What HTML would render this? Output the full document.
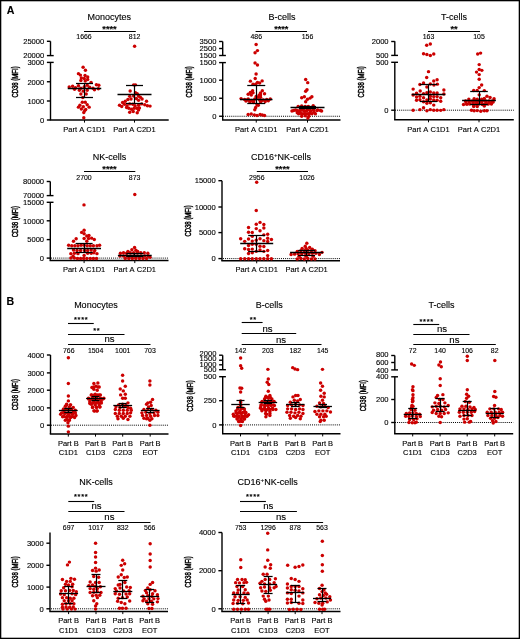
<!DOCTYPE html>
<html><head><meta charset="utf-8"><style>
html,body{margin:0;padding:0;background:#fff;-webkit-font-smoothing:antialiased;}
body{width:520px;height:639px;overflow:hidden;}
svg{display:block;will-change:transform;}
text{font-family:"Liberation Sans", sans-serif;fill:#000;stroke:#000;stroke-width:0.12px;}
</style></head><body>
<svg width="520" height="639" viewBox="0 0 520 639">
<rect x="0" y="0" width="520" height="639" fill="#fff"/>
<rect x="0.65" y="0.65" width="518.7" height="637.7" fill="none" stroke="#000" stroke-width="1.3"/>
<text x="6.8" y="14.3" font-size="10.6" font-weight="bold">A</text>
<text x="6.4" y="304.9" font-size="10.6" font-weight="bold">B</text>
<text x="109.20" y="19.80" font-size="9.0" text-anchor="middle" font-weight="normal" >Monocytes</text>
<line x1="84.00" y1="31.50" x2="135.80" y2="31.50" stroke="#000" stroke-width="1.1"/>
<text x="109.50" y="31.65" font-size="9.2" text-anchor="middle" font-weight="bold" >****</text>
<text transform="translate(84.00,39.30) scale(0.98,1.0)" font-size="7.1" text-anchor="middle" font-weight="normal" >1666</text>
<text transform="translate(134.60,39.30) scale(0.98,1.0)" font-size="7.1" text-anchor="middle" font-weight="normal" >812</text>
<line x1="50.50" y1="41.30" x2="50.50" y2="55.60" stroke="#000" stroke-width="1.4"/>
<line x1="50.50" y1="62.40" x2="50.50" y2="120.00" stroke="#000" stroke-width="1.4"/>
<line x1="46.90" y1="41.30" x2="50.50" y2="41.30" stroke="#000" stroke-width="1.4"/>
<text x="44.30" y="44.05" font-size="7.6" text-anchor="end" font-weight="normal" >25000</text>
<line x1="46.90" y1="55.60" x2="53.70" y2="55.60" stroke="#000" stroke-width="1.4"/>
<text x="44.30" y="58.35" font-size="7.6" text-anchor="end" font-weight="normal" >20000</text>
<line x1="46.90" y1="62.40" x2="53.70" y2="62.40" stroke="#000" stroke-width="1.4"/>
<text x="44.30" y="65.15" font-size="7.6" text-anchor="end" font-weight="normal" >3000</text>
<line x1="46.90" y1="81.75" x2="50.50" y2="81.75" stroke="#000" stroke-width="1.4"/>
<text x="44.30" y="84.50" font-size="7.6" text-anchor="end" font-weight="normal" >2000</text>
<line x1="46.90" y1="101.00" x2="50.50" y2="101.00" stroke="#000" stroke-width="1.4"/>
<text x="44.30" y="103.75" font-size="7.6" text-anchor="end" font-weight="normal" >1000</text>
<line x1="46.90" y1="120.00" x2="50.50" y2="120.00" stroke="#000" stroke-width="1.4"/>
<text x="44.30" y="122.75" font-size="7.6" text-anchor="end" font-weight="normal" >0</text>
<line x1="49.80" y1="120.00" x2="168.70" y2="120.00" stroke="#000" stroke-width="1.4"/>
<line x1="84.50" y1="120.00" x2="84.50" y2="122.60" stroke="#000" stroke-width="1.0"/>
<line x1="134.50" y1="120.00" x2="134.50" y2="122.60" stroke="#000" stroke-width="1.0"/>
<text transform="translate(17.70,82.00) rotate(-90) scale(1.0,1.5)" font-size="6.0" text-anchor="middle" font-weight="normal" style="stroke-width:0.3px">CD38 (MFI)</text>
<text x="84.50" y="131.60" font-size="7.5" text-anchor="middle" font-weight="normal" word-spacing="0.55">Part A C1D1</text>
<text x="134.50" y="131.60" font-size="7.5" text-anchor="middle" font-weight="normal" word-spacing="0.55">Part A C2D1</text>
<circle cx="83.11" cy="67.34" r="1.72" fill="#cc0000"/>
<circle cx="85.44" cy="70.25" r="1.72" fill="#cc0000"/>
<circle cx="78.45" cy="73.65" r="1.72" fill="#cc0000"/>
<circle cx="80.39" cy="75.11" r="1.72" fill="#cc0000"/>
<circle cx="85.05" cy="75.59" r="1.72" fill="#cc0000"/>
<circle cx="87.67" cy="77.05" r="1.72" fill="#cc0000"/>
<circle cx="81.36" cy="78.02" r="1.72" fill="#cc0000"/>
<circle cx="84.27" cy="78.50" r="1.72" fill="#cc0000"/>
<circle cx="87.67" cy="79.48" r="1.72" fill="#cc0000"/>
<circle cx="80.87" cy="80.45" r="1.72" fill="#cc0000"/>
<circle cx="85.24" cy="80.93" r="1.72" fill="#cc0000"/>
<circle cx="91.07" cy="82.39" r="1.72" fill="#cc0000"/>
<circle cx="69.22" cy="87.05" r="1.72" fill="#cc0000"/>
<circle cx="72.62" cy="86.27" r="1.72" fill="#cc0000"/>
<circle cx="75.53" cy="87.73" r="1.72" fill="#cc0000"/>
<circle cx="78.45" cy="85.79" r="1.72" fill="#cc0000"/>
<circle cx="80.87" cy="88.21" r="1.72" fill="#cc0000"/>
<circle cx="84.27" cy="86.76" r="1.72" fill="#cc0000"/>
<circle cx="87.18" cy="85.30" r="1.72" fill="#cc0000"/>
<circle cx="89.61" cy="87.24" r="1.72" fill="#cc0000"/>
<circle cx="93.01" cy="88.21" r="1.72" fill="#cc0000"/>
<circle cx="96.41" cy="84.82" r="1.72" fill="#cc0000"/>
<circle cx="98.83" cy="85.30" r="1.72" fill="#cc0000"/>
<circle cx="98.35" cy="88.70" r="1.72" fill="#cc0000"/>
<circle cx="94.47" cy="89.67" r="1.72" fill="#cc0000"/>
<circle cx="74.56" cy="89.18" r="1.72" fill="#cc0000"/>
<circle cx="79.42" cy="90.16" r="1.72" fill="#cc0000"/>
<circle cx="83.30" cy="91.13" r="1.72" fill="#cc0000"/>
<circle cx="87.18" cy="90.16" r="1.72" fill="#cc0000"/>
<circle cx="80.87" cy="94.04" r="1.72" fill="#cc0000"/>
<circle cx="86.21" cy="94.04" r="1.72" fill="#cc0000"/>
<circle cx="82.82" cy="97.44" r="1.72" fill="#cc0000"/>
<circle cx="82.33" cy="102.29" r="1.72" fill="#cc0000"/>
<circle cx="85.24" cy="102.29" r="1.72" fill="#cc0000"/>
<circle cx="87.18" cy="104.72" r="1.72" fill="#cc0000"/>
<circle cx="79.90" cy="105.20" r="1.72" fill="#cc0000"/>
<circle cx="78.45" cy="107.15" r="1.72" fill="#cc0000"/>
<circle cx="83.30" cy="106.66" r="1.72" fill="#cc0000"/>
<circle cx="89.13" cy="107.15" r="1.72" fill="#cc0000"/>
<circle cx="81.36" cy="109.09" r="1.72" fill="#cc0000"/>
<circle cx="85.73" cy="109.57" r="1.72" fill="#cc0000"/>
<circle cx="83.79" cy="112.49" r="1.72" fill="#cc0000"/>
<circle cx="84.76" cy="110.54" r="1.72" fill="#cc0000"/>
<circle cx="83.79" cy="117.83" r="1.72" fill="#cc0000"/>
<circle cx="134.60" cy="46.20" r="1.72" fill="#cc0000"/>
<circle cx="133.68" cy="84.87" r="1.72" fill="#cc0000"/>
<circle cx="135.45" cy="84.87" r="1.72" fill="#cc0000"/>
<circle cx="130.14" cy="91.06" r="1.72" fill="#cc0000"/>
<circle cx="135.45" cy="92.83" r="1.72" fill="#cc0000"/>
<circle cx="137.22" cy="93.72" r="1.72" fill="#cc0000"/>
<circle cx="129.70" cy="96.37" r="1.72" fill="#cc0000"/>
<circle cx="133.68" cy="95.93" r="1.72" fill="#cc0000"/>
<circle cx="138.55" cy="95.93" r="1.72" fill="#cc0000"/>
<circle cx="140.32" cy="97.26" r="1.72" fill="#cc0000"/>
<circle cx="127.93" cy="99.47" r="1.72" fill="#cc0000"/>
<circle cx="131.03" cy="99.03" r="1.72" fill="#cc0000"/>
<circle cx="136.34" cy="98.58" r="1.72" fill="#cc0000"/>
<circle cx="138.55" cy="100.35" r="1.72" fill="#cc0000"/>
<circle cx="142.09" cy="99.03" r="1.72" fill="#cc0000"/>
<circle cx="146.51" cy="101.24" r="1.72" fill="#cc0000"/>
<circle cx="125.27" cy="101.24" r="1.72" fill="#cc0000"/>
<circle cx="122.62" cy="102.57" r="1.72" fill="#cc0000"/>
<circle cx="119.52" cy="105.22" r="1.72" fill="#cc0000"/>
<circle cx="121.73" cy="106.55" r="1.72" fill="#cc0000"/>
<circle cx="124.39" cy="104.34" r="1.72" fill="#cc0000"/>
<circle cx="127.04" cy="105.66" r="1.72" fill="#cc0000"/>
<circle cx="129.70" cy="103.89" r="1.72" fill="#cc0000"/>
<circle cx="132.80" cy="104.34" r="1.72" fill="#cc0000"/>
<circle cx="135.01" cy="105.66" r="1.72" fill="#cc0000"/>
<circle cx="138.55" cy="105.22" r="1.72" fill="#cc0000"/>
<circle cx="141.65" cy="103.89" r="1.72" fill="#cc0000"/>
<circle cx="144.74" cy="104.78" r="1.72" fill="#cc0000"/>
<circle cx="147.40" cy="105.66" r="1.72" fill="#cc0000"/>
<circle cx="150.05" cy="106.11" r="1.72" fill="#cc0000"/>
<circle cx="128.81" cy="108.32" r="1.72" fill="#cc0000"/>
<circle cx="131.47" cy="109.20" r="1.72" fill="#cc0000"/>
<circle cx="134.12" cy="108.32" r="1.72" fill="#cc0000"/>
<circle cx="136.78" cy="108.32" r="1.72" fill="#cc0000"/>
<circle cx="139.43" cy="107.88" r="1.72" fill="#cc0000"/>
<circle cx="129.70" cy="112.30" r="1.72" fill="#cc0000"/>
<circle cx="133.24" cy="111.42" r="1.72" fill="#cc0000"/>
<circle cx="137.22" cy="112.74" r="1.72" fill="#cc0000"/>
<circle cx="138.55" cy="110.09" r="1.72" fill="#cc0000"/>
<circle cx="126.60" cy="107.43" r="1.72" fill="#cc0000"/>
<line x1="67.75" y1="88.50" x2="101.25" y2="88.50" stroke="#000" stroke-width="1.3"/>
<line x1="84.50" y1="83.00" x2="84.50" y2="97.50" stroke="#000" stroke-width="1.2"/>
<line x1="76.00" y1="83.50" x2="93.00" y2="83.50" stroke="#000" stroke-width="1.25"/>
<line x1="76.00" y1="97.50" x2="93.00" y2="97.50" stroke="#000" stroke-width="1.25"/>
<line x1="117.50" y1="94.50" x2="151.50" y2="94.50" stroke="#000" stroke-width="1.3"/>
<line x1="134.50" y1="85.90" x2="134.50" y2="103.20" stroke="#000" stroke-width="1.2"/>
<line x1="126.00" y1="85.50" x2="143.00" y2="85.50" stroke="#000" stroke-width="1.25"/>
<line x1="126.00" y1="103.50" x2="143.00" y2="103.50" stroke="#000" stroke-width="1.25"/>
<text x="282.00" y="19.80" font-size="9.0" text-anchor="middle" font-weight="normal" >B-cells</text>
<line x1="255.60" y1="31.50" x2="307.00" y2="31.50" stroke="#000" stroke-width="1.1"/>
<text x="281.30" y="31.65" font-size="9.2" text-anchor="middle" font-weight="bold" >****</text>
<text transform="translate(256.25,39.30) scale(0.98,1.0)" font-size="7.1" text-anchor="middle" font-weight="normal" >486</text>
<text transform="translate(307.50,39.30) scale(0.98,1.0)" font-size="7.1" text-anchor="middle" font-weight="normal" >156</text>
<line x1="222.70" y1="41.50" x2="222.70" y2="55.50" stroke="#000" stroke-width="1.4"/>
<line x1="222.70" y1="62.60" x2="222.70" y2="120.00" stroke="#000" stroke-width="1.4"/>
<line x1="219.10" y1="41.50" x2="222.70" y2="41.50" stroke="#000" stroke-width="1.4"/>
<text x="216.50" y="44.25" font-size="7.6" text-anchor="end" font-weight="normal" >3500</text>
<line x1="219.10" y1="48.50" x2="222.70" y2="48.50" stroke="#000" stroke-width="1.4"/>
<text x="216.50" y="51.25" font-size="7.6" text-anchor="end" font-weight="normal" >2500</text>
<line x1="219.10" y1="55.50" x2="225.90" y2="55.50" stroke="#000" stroke-width="1.4"/>
<text x="216.50" y="58.25" font-size="7.6" text-anchor="end" font-weight="normal" >1500</text>
<line x1="219.10" y1="62.60" x2="225.90" y2="62.60" stroke="#000" stroke-width="1.4"/>
<text x="216.50" y="65.15" font-size="7.6" text-anchor="end" font-weight="normal" >1500</text>
<line x1="219.10" y1="80.20" x2="222.70" y2="80.20" stroke="#000" stroke-width="1.4"/>
<text x="216.50" y="82.95" font-size="7.6" text-anchor="end" font-weight="normal" >1000</text>
<line x1="219.10" y1="98.25" x2="222.70" y2="98.25" stroke="#000" stroke-width="1.4"/>
<text x="216.50" y="101.00" font-size="7.6" text-anchor="end" font-weight="normal" >500</text>
<line x1="219.10" y1="116.25" x2="222.70" y2="116.25" stroke="#000" stroke-width="1.4"/>
<text x="216.50" y="119.00" font-size="7.6" text-anchor="end" font-weight="normal" >0</text>
<line x1="222.00" y1="120.00" x2="340.50" y2="120.00" stroke="#000" stroke-width="1.4"/>
<line x1="256.25" y1="120.00" x2="256.25" y2="122.60" stroke="#000" stroke-width="1.0"/>
<line x1="307.50" y1="120.00" x2="307.50" y2="122.60" stroke="#000" stroke-width="1.0"/>
<line x1="223.00" y1="116.25" x2="340.50" y2="116.25" stroke="#000" stroke-width="1.0" stroke-dasharray="1,1.07"/>
<text transform="translate(192.20,81.80) rotate(-90) scale(1.0,1.5)" font-size="6.0" text-anchor="middle" font-weight="normal" style="stroke-width:0.3px">CD38 (MFI)</text>
<text x="256.25" y="131.60" font-size="7.5" text-anchor="middle" font-weight="normal" word-spacing="0.55">Part A C1D1</text>
<text x="307.50" y="131.60" font-size="7.5" text-anchor="middle" font-weight="normal" word-spacing="0.55">Part A C2D1</text>
<circle cx="256.12" cy="44.42" r="1.72" fill="#cc0000"/>
<circle cx="257.45" cy="50.62" r="1.72" fill="#cc0000"/>
<circle cx="255.06" cy="52.83" r="1.72" fill="#cc0000"/>
<circle cx="255.06" cy="63.01" r="1.72" fill="#cc0000"/>
<circle cx="257.45" cy="64.96" r="1.72" fill="#cc0000"/>
<circle cx="256.12" cy="74.07" r="1.72" fill="#cc0000"/>
<circle cx="255.24" cy="78.50" r="1.72" fill="#cc0000"/>
<circle cx="250.37" cy="81.15" r="1.72" fill="#cc0000"/>
<circle cx="257.45" cy="82.48" r="1.72" fill="#cc0000"/>
<circle cx="259.66" cy="82.92" r="1.72" fill="#cc0000"/>
<circle cx="262.14" cy="80.88" r="1.72" fill="#cc0000"/>
<circle cx="253.03" cy="84.25" r="1.72" fill="#cc0000"/>
<circle cx="255.68" cy="84.25" r="1.72" fill="#cc0000"/>
<circle cx="252.58" cy="90.64" r="1.72" fill="#cc0000"/>
<circle cx="250.37" cy="92.41" r="1.72" fill="#cc0000"/>
<circle cx="248.16" cy="94.18" r="1.72" fill="#cc0000"/>
<circle cx="253.03" cy="92.85" r="1.72" fill="#cc0000"/>
<circle cx="262.32" cy="90.64" r="1.72" fill="#cc0000"/>
<circle cx="260.55" cy="92.85" r="1.72" fill="#cc0000"/>
<circle cx="264.53" cy="93.73" r="1.72" fill="#cc0000"/>
<circle cx="259.22" cy="95.06" r="1.72" fill="#cc0000"/>
<circle cx="251.26" cy="95.06" r="1.72" fill="#cc0000"/>
<circle cx="256.12" cy="96.39" r="1.72" fill="#cc0000"/>
<circle cx="257.89" cy="97.27" r="1.72" fill="#cc0000"/>
<circle cx="260.55" cy="97.27" r="1.72" fill="#cc0000"/>
<circle cx="241.08" cy="98.60" r="1.72" fill="#cc0000"/>
<circle cx="244.62" cy="99.49" r="1.72" fill="#cc0000"/>
<circle cx="248.16" cy="99.04" r="1.72" fill="#cc0000"/>
<circle cx="251.70" cy="100.37" r="1.72" fill="#cc0000"/>
<circle cx="254.80" cy="99.04" r="1.72" fill="#cc0000"/>
<circle cx="259.66" cy="99.93" r="1.72" fill="#cc0000"/>
<circle cx="263.20" cy="99.93" r="1.72" fill="#cc0000"/>
<circle cx="266.74" cy="99.49" r="1.72" fill="#cc0000"/>
<circle cx="270.28" cy="99.04" r="1.72" fill="#cc0000"/>
<circle cx="249.93" cy="101.70" r="1.72" fill="#cc0000"/>
<circle cx="253.47" cy="102.58" r="1.72" fill="#cc0000"/>
<circle cx="260.55" cy="101.70" r="1.72" fill="#cc0000"/>
<circle cx="257.01" cy="104.80" r="1.72" fill="#cc0000"/>
<circle cx="255.68" cy="107.45" r="1.72" fill="#cc0000"/>
<circle cx="254.80" cy="109.66" r="1.72" fill="#cc0000"/>
<circle cx="248.16" cy="114.53" r="1.72" fill="#cc0000"/>
<circle cx="251.26" cy="114.09" r="1.72" fill="#cc0000"/>
<circle cx="254.35" cy="114.97" r="1.72" fill="#cc0000"/>
<circle cx="257.01" cy="115.42" r="1.72" fill="#cc0000"/>
<circle cx="260.11" cy="114.53" r="1.72" fill="#cc0000"/>
<circle cx="262.32" cy="114.97" r="1.72" fill="#cc0000"/>
<circle cx="264.53" cy="115.42" r="1.72" fill="#cc0000"/>
<circle cx="247.27" cy="99.93" r="1.72" fill="#cc0000"/>
<circle cx="260.55" cy="95.06" r="1.72" fill="#cc0000"/>
<circle cx="246.00" cy="101.08" r="1.72" fill="#cc0000"/>
<circle cx="249.85" cy="101.46" r="1.72" fill="#cc0000"/>
<circle cx="253.69" cy="101.08" r="1.72" fill="#cc0000"/>
<circle cx="261.38" cy="101.08" r="1.72" fill="#cc0000"/>
<circle cx="265.23" cy="101.46" r="1.72" fill="#cc0000"/>
<circle cx="268.31" cy="100.69" r="1.72" fill="#cc0000"/>
<circle cx="258.31" cy="105.31" r="1.72" fill="#cc0000"/>
<circle cx="305.68" cy="79.54" r="1.72" fill="#cc0000"/>
<circle cx="307.72" cy="82.64" r="1.72" fill="#cc0000"/>
<circle cx="307.01" cy="89.72" r="1.72" fill="#cc0000"/>
<circle cx="305.68" cy="91.22" r="1.72" fill="#cc0000"/>
<circle cx="301.70" cy="97.68" r="1.72" fill="#cc0000"/>
<circle cx="304.35" cy="96.80" r="1.72" fill="#cc0000"/>
<circle cx="307.45" cy="99.19" r="1.72" fill="#cc0000"/>
<circle cx="310.11" cy="98.12" r="1.72" fill="#cc0000"/>
<circle cx="311.88" cy="96.80" r="1.72" fill="#cc0000"/>
<circle cx="305.68" cy="101.66" r="1.72" fill="#cc0000"/>
<circle cx="298.16" cy="106.53" r="1.72" fill="#cc0000"/>
<circle cx="301.70" cy="106.09" r="1.72" fill="#cc0000"/>
<circle cx="305.24" cy="106.53" r="1.72" fill="#cc0000"/>
<circle cx="308.34" cy="106.53" r="1.72" fill="#cc0000"/>
<circle cx="313.20" cy="105.65" r="1.72" fill="#cc0000"/>
<circle cx="291.96" cy="110.96" r="1.72" fill="#cc0000"/>
<circle cx="295.50" cy="110.07" r="1.72" fill="#cc0000"/>
<circle cx="298.60" cy="110.96" r="1.72" fill="#cc0000"/>
<circle cx="301.70" cy="110.07" r="1.72" fill="#cc0000"/>
<circle cx="304.80" cy="110.96" r="1.72" fill="#cc0000"/>
<circle cx="307.45" cy="110.07" r="1.72" fill="#cc0000"/>
<circle cx="310.55" cy="110.96" r="1.72" fill="#cc0000"/>
<circle cx="313.65" cy="109.63" r="1.72" fill="#cc0000"/>
<circle cx="317.63" cy="110.07" r="1.72" fill="#cc0000"/>
<circle cx="321.61" cy="110.96" r="1.72" fill="#cc0000"/>
<circle cx="297.27" cy="112.73" r="1.72" fill="#cc0000"/>
<circle cx="300.37" cy="113.17" r="1.72" fill="#cc0000"/>
<circle cx="303.91" cy="113.61" r="1.72" fill="#cc0000"/>
<circle cx="307.01" cy="113.61" r="1.72" fill="#cc0000"/>
<circle cx="310.11" cy="113.17" r="1.72" fill="#cc0000"/>
<circle cx="314.09" cy="112.28" r="1.72" fill="#cc0000"/>
<circle cx="301.70" cy="116.27" r="1.72" fill="#cc0000"/>
<circle cx="305.24" cy="115.82" r="1.72" fill="#cc0000"/>
<circle cx="308.78" cy="116.27" r="1.72" fill="#cc0000"/>
<circle cx="307.89" cy="118.04" r="1.72" fill="#cc0000"/>
<circle cx="293.60" cy="110.50" r="1.72" fill="#cc0000"/>
<circle cx="296.95" cy="110.50" r="1.72" fill="#cc0000"/>
<circle cx="300.30" cy="110.50" r="1.72" fill="#cc0000"/>
<circle cx="303.65" cy="110.50" r="1.72" fill="#cc0000"/>
<circle cx="307.00" cy="110.50" r="1.72" fill="#cc0000"/>
<circle cx="310.35" cy="110.50" r="1.72" fill="#cc0000"/>
<circle cx="313.70" cy="110.50" r="1.72" fill="#cc0000"/>
<circle cx="317.05" cy="110.50" r="1.72" fill="#cc0000"/>
<circle cx="320.40" cy="110.50" r="1.72" fill="#cc0000"/>
<circle cx="298.60" cy="113.80" r="1.72" fill="#cc0000"/>
<circle cx="301.96" cy="113.80" r="1.72" fill="#cc0000"/>
<circle cx="305.32" cy="113.80" r="1.72" fill="#cc0000"/>
<circle cx="308.68" cy="113.80" r="1.72" fill="#cc0000"/>
<circle cx="312.04" cy="113.80" r="1.72" fill="#cc0000"/>
<circle cx="315.40" cy="113.80" r="1.72" fill="#cc0000"/>
<line x1="240.00" y1="99.50" x2="272.50" y2="99.50" stroke="#000" stroke-width="1.3"/>
<line x1="256.50" y1="85.50" x2="256.50" y2="103.00" stroke="#000" stroke-width="1.2"/>
<line x1="247.25" y1="85.50" x2="265.25" y2="85.50" stroke="#000" stroke-width="1.25"/>
<line x1="247.25" y1="103.50" x2="265.25" y2="103.50" stroke="#000" stroke-width="1.25"/>
<line x1="290.50" y1="107.50" x2="324.50" y2="107.50" stroke="#000" stroke-width="1.3"/>
<line x1="307.50" y1="106.20" x2="307.50" y2="108.20" stroke="#000" stroke-width="1.2"/>
<line x1="299.00" y1="106.50" x2="316.00" y2="106.50" stroke="#000" stroke-width="1.25"/>
<line x1="299.00" y1="108.50" x2="316.00" y2="108.50" stroke="#000" stroke-width="1.25"/>
<text x="454.00" y="19.80" font-size="9.0" text-anchor="middle" font-weight="normal" >T-cells</text>
<line x1="428.00" y1="31.50" x2="480.00" y2="31.50" stroke="#000" stroke-width="1.1"/>
<text x="454.00" y="31.65" font-size="9.2" text-anchor="middle" font-weight="bold" >**</text>
<text transform="translate(428.50,39.30) scale(0.98,1.0)" font-size="7.1" text-anchor="middle" font-weight="normal" >163</text>
<text transform="translate(479.00,39.30) scale(0.98,1.0)" font-size="7.1" text-anchor="middle" font-weight="normal" >105</text>
<line x1="394.80" y1="41.30" x2="394.80" y2="55.60" stroke="#000" stroke-width="1.4"/>
<line x1="394.80" y1="62.30" x2="394.80" y2="119.70" stroke="#000" stroke-width="1.4"/>
<line x1="391.20" y1="41.50" x2="394.80" y2="41.50" stroke="#000" stroke-width="1.4"/>
<text x="388.60" y="44.25" font-size="7.6" text-anchor="end" font-weight="normal" >2000</text>
<line x1="391.20" y1="55.40" x2="398.00" y2="55.40" stroke="#000" stroke-width="1.4"/>
<text x="388.60" y="58.15" font-size="7.6" text-anchor="end" font-weight="normal" >500</text>
<line x1="391.20" y1="62.30" x2="398.00" y2="62.30" stroke="#000" stroke-width="1.4"/>
<text x="388.60" y="64.65" font-size="7.6" text-anchor="end" font-weight="normal" >500</text>
<line x1="391.20" y1="110.20" x2="394.80" y2="110.20" stroke="#000" stroke-width="1.4"/>
<text x="388.60" y="112.95" font-size="7.6" text-anchor="end" font-weight="normal" >0</text>
<line x1="394.10" y1="119.70" x2="513.80" y2="119.70" stroke="#000" stroke-width="1.4"/>
<line x1="428.50" y1="119.70" x2="428.50" y2="122.30" stroke="#000" stroke-width="1.0"/>
<line x1="479.00" y1="119.70" x2="479.00" y2="122.30" stroke="#000" stroke-width="1.0"/>
<line x1="395.00" y1="110.20" x2="513.80" y2="110.20" stroke="#000" stroke-width="1.0" stroke-dasharray="1,1.07"/>
<text transform="translate(364.30,81.80) rotate(-90) scale(1.0,1.5)" font-size="6.0" text-anchor="middle" font-weight="normal" style="stroke-width:0.3px">CD38 (MFI)</text>
<text x="428.50" y="131.60" font-size="7.5" text-anchor="middle" font-weight="normal" word-spacing="0.55">Part A C1D1</text>
<text x="479.00" y="131.60" font-size="7.5" text-anchor="middle" font-weight="normal" word-spacing="0.55">Part A C2D1</text>
<circle cx="426.70" cy="45.24" r="1.72" fill="#cc0000"/>
<circle cx="430.32" cy="44.07" r="1.72" fill="#cc0000"/>
<circle cx="423.54" cy="53.74" r="1.72" fill="#cc0000"/>
<circle cx="426.88" cy="54.47" r="1.72" fill="#cc0000"/>
<circle cx="430.32" cy="55.55" r="1.72" fill="#cc0000"/>
<circle cx="433.75" cy="54.01" r="1.72" fill="#cc0000"/>
<circle cx="428.51" cy="71.65" r="1.72" fill="#cc0000"/>
<circle cx="426.70" cy="77.52" r="1.72" fill="#cc0000"/>
<circle cx="433.75" cy="80.97" r="1.72" fill="#cc0000"/>
<circle cx="437.10" cy="79.80" r="1.72" fill="#cc0000"/>
<circle cx="423.54" cy="83.05" r="1.72" fill="#cc0000"/>
<circle cx="419.92" cy="84.59" r="1.72" fill="#cc0000"/>
<circle cx="430.32" cy="83.96" r="1.72" fill="#cc0000"/>
<circle cx="433.93" cy="85.04" r="1.72" fill="#cc0000"/>
<circle cx="437.37" cy="84.14" r="1.72" fill="#cc0000"/>
<circle cx="426.88" cy="87.03" r="1.72" fill="#cc0000"/>
<circle cx="413.14" cy="89.11" r="1.72" fill="#cc0000"/>
<circle cx="420.19" cy="90.92" r="1.72" fill="#cc0000"/>
<circle cx="443.88" cy="90.01" r="1.72" fill="#cc0000"/>
<circle cx="416.57" cy="93.18" r="1.72" fill="#cc0000"/>
<circle cx="423.54" cy="93.63" r="1.72" fill="#cc0000"/>
<circle cx="426.88" cy="92.73" r="1.72" fill="#cc0000"/>
<circle cx="430.32" cy="92.09" r="1.72" fill="#cc0000"/>
<circle cx="433.75" cy="93.00" r="1.72" fill="#cc0000"/>
<circle cx="437.10" cy="93.00" r="1.72" fill="#cc0000"/>
<circle cx="413.14" cy="94.99" r="1.72" fill="#cc0000"/>
<circle cx="416.57" cy="96.98" r="1.72" fill="#cc0000"/>
<circle cx="419.92" cy="96.34" r="1.72" fill="#cc0000"/>
<circle cx="423.54" cy="97.70" r="1.72" fill="#cc0000"/>
<circle cx="430.32" cy="96.34" r="1.72" fill="#cc0000"/>
<circle cx="433.75" cy="96.61" r="1.72" fill="#cc0000"/>
<circle cx="437.10" cy="96.61" r="1.72" fill="#cc0000"/>
<circle cx="440.71" cy="97.70" r="1.72" fill="#cc0000"/>
<circle cx="443.88" cy="94.08" r="1.72" fill="#cc0000"/>
<circle cx="416.57" cy="100.23" r="1.72" fill="#cc0000"/>
<circle cx="419.92" cy="99.69" r="1.72" fill="#cc0000"/>
<circle cx="426.88" cy="99.96" r="1.72" fill="#cc0000"/>
<circle cx="430.32" cy="99.06" r="1.72" fill="#cc0000"/>
<circle cx="433.75" cy="99.96" r="1.72" fill="#cc0000"/>
<circle cx="437.10" cy="100.23" r="1.72" fill="#cc0000"/>
<circle cx="440.71" cy="101.32" r="1.72" fill="#cc0000"/>
<circle cx="423.54" cy="101.77" r="1.72" fill="#cc0000"/>
<circle cx="426.88" cy="103.31" r="1.72" fill="#cc0000"/>
<circle cx="430.32" cy="102.67" r="1.72" fill="#cc0000"/>
<circle cx="433.75" cy="105.11" r="1.72" fill="#cc0000"/>
<circle cx="413.14" cy="110.18" r="1.72" fill="#cc0000"/>
<circle cx="419.92" cy="109.63" r="1.72" fill="#cc0000"/>
<circle cx="423.54" cy="107.83" r="1.72" fill="#cc0000"/>
<circle cx="426.88" cy="110.81" r="1.72" fill="#cc0000"/>
<circle cx="430.32" cy="109.63" r="1.72" fill="#cc0000"/>
<circle cx="433.75" cy="110.18" r="1.72" fill="#cc0000"/>
<circle cx="437.10" cy="110.18" r="1.72" fill="#cc0000"/>
<circle cx="440.71" cy="110.36" r="1.72" fill="#cc0000"/>
<circle cx="443.88" cy="109.63" r="1.72" fill="#cc0000"/>
<circle cx="477.68" cy="53.98" r="1.72" fill="#cc0000"/>
<circle cx="480.60" cy="53.10" r="1.72" fill="#cc0000"/>
<circle cx="479.19" cy="64.60" r="1.72" fill="#cc0000"/>
<circle cx="479.19" cy="69.47" r="1.72" fill="#cc0000"/>
<circle cx="481.84" cy="70.35" r="1.72" fill="#cc0000"/>
<circle cx="476.53" cy="72.12" r="1.72" fill="#cc0000"/>
<circle cx="479.19" cy="74.60" r="1.72" fill="#cc0000"/>
<circle cx="479.19" cy="79.20" r="1.72" fill="#cc0000"/>
<circle cx="481.66" cy="84.96" r="1.72" fill="#cc0000"/>
<circle cx="479.19" cy="87.61" r="1.72" fill="#cc0000"/>
<circle cx="473.70" cy="90.42" r="1.72" fill="#cc0000"/>
<circle cx="477.24" cy="90.42" r="1.72" fill="#cc0000"/>
<circle cx="484.32" cy="90.60" r="1.72" fill="#cc0000"/>
<circle cx="479.19" cy="94.85" r="1.72" fill="#cc0000"/>
<circle cx="486.97" cy="96.18" r="1.72" fill="#cc0000"/>
<circle cx="468.83" cy="99.10" r="1.72" fill="#cc0000"/>
<circle cx="474.14" cy="98.83" r="1.72" fill="#cc0000"/>
<circle cx="477.24" cy="99.27" r="1.72" fill="#cc0000"/>
<circle cx="481.66" cy="99.27" r="1.72" fill="#cc0000"/>
<circle cx="484.32" cy="98.39" r="1.72" fill="#cc0000"/>
<circle cx="490.07" cy="97.50" r="1.72" fill="#cc0000"/>
<circle cx="494.05" cy="98.83" r="1.72" fill="#cc0000"/>
<circle cx="465.73" cy="101.49" r="1.72" fill="#cc0000"/>
<circle cx="469.27" cy="101.93" r="1.72" fill="#cc0000"/>
<circle cx="473.26" cy="102.37" r="1.72" fill="#cc0000"/>
<circle cx="476.80" cy="101.93" r="1.72" fill="#cc0000"/>
<circle cx="481.66" cy="101.93" r="1.72" fill="#cc0000"/>
<circle cx="485.65" cy="101.49" r="1.72" fill="#cc0000"/>
<circle cx="489.19" cy="101.93" r="1.72" fill="#cc0000"/>
<circle cx="493.17" cy="101.93" r="1.72" fill="#cc0000"/>
<circle cx="463.52" cy="104.58" r="1.72" fill="#cc0000"/>
<circle cx="467.06" cy="104.14" r="1.72" fill="#cc0000"/>
<circle cx="473.70" cy="105.03" r="1.72" fill="#cc0000"/>
<circle cx="477.24" cy="104.14" r="1.72" fill="#cc0000"/>
<circle cx="482.55" cy="104.58" r="1.72" fill="#cc0000"/>
<circle cx="486.97" cy="103.70" r="1.72" fill="#cc0000"/>
<circle cx="491.40" cy="103.26" r="1.72" fill="#cc0000"/>
<circle cx="473.70" cy="106.53" r="1.72" fill="#cc0000"/>
<circle cx="477.24" cy="106.53" r="1.72" fill="#cc0000"/>
<circle cx="484.32" cy="105.91" r="1.72" fill="#cc0000"/>
<circle cx="471.49" cy="110.34" r="1.72" fill="#cc0000"/>
<circle cx="474.14" cy="110.78" r="1.72" fill="#cc0000"/>
<circle cx="477.24" cy="110.60" r="1.72" fill="#cc0000"/>
<circle cx="480.78" cy="111.22" r="1.72" fill="#cc0000"/>
<circle cx="484.32" cy="110.78" r="1.72" fill="#cc0000"/>
<circle cx="486.97" cy="110.78" r="1.72" fill="#cc0000"/>
<circle cx="465.60" cy="101.00" r="1.72" fill="#cc0000"/>
<circle cx="468.95" cy="101.00" r="1.72" fill="#cc0000"/>
<circle cx="472.30" cy="101.00" r="1.72" fill="#cc0000"/>
<circle cx="475.65" cy="101.00" r="1.72" fill="#cc0000"/>
<circle cx="479.00" cy="101.00" r="1.72" fill="#cc0000"/>
<circle cx="482.35" cy="101.00" r="1.72" fill="#cc0000"/>
<circle cx="485.70" cy="101.00" r="1.72" fill="#cc0000"/>
<circle cx="489.05" cy="101.00" r="1.72" fill="#cc0000"/>
<circle cx="492.40" cy="101.00" r="1.72" fill="#cc0000"/>
<circle cx="466.60" cy="104.00" r="1.72" fill="#cc0000"/>
<circle cx="469.70" cy="104.00" r="1.72" fill="#cc0000"/>
<circle cx="472.80" cy="104.00" r="1.72" fill="#cc0000"/>
<circle cx="475.90" cy="104.00" r="1.72" fill="#cc0000"/>
<circle cx="479.00" cy="104.00" r="1.72" fill="#cc0000"/>
<circle cx="482.10" cy="104.00" r="1.72" fill="#cc0000"/>
<circle cx="485.20" cy="104.00" r="1.72" fill="#cc0000"/>
<circle cx="488.30" cy="104.00" r="1.72" fill="#cc0000"/>
<circle cx="491.40" cy="104.00" r="1.72" fill="#cc0000"/>
<line x1="411.70" y1="94.50" x2="445.30" y2="94.50" stroke="#000" stroke-width="1.3"/>
<line x1="428.50" y1="84.70" x2="428.50" y2="101.40" stroke="#000" stroke-width="1.2"/>
<line x1="419.75" y1="84.50" x2="437.25" y2="84.50" stroke="#000" stroke-width="1.25"/>
<line x1="419.75" y1="101.50" x2="437.25" y2="101.50" stroke="#000" stroke-width="1.25"/>
<line x1="462.10" y1="100.50" x2="495.90" y2="100.50" stroke="#000" stroke-width="1.3"/>
<line x1="479.50" y1="91.40" x2="479.50" y2="104.00" stroke="#000" stroke-width="1.2"/>
<line x1="470.20" y1="91.50" x2="487.80" y2="91.50" stroke="#000" stroke-width="1.25"/>
<line x1="470.20" y1="104.50" x2="487.80" y2="104.50" stroke="#000" stroke-width="1.25"/>
<text x="109.40" y="160.20" font-size="9.0" text-anchor="middle" font-weight="normal" >NK-cells</text>
<line x1="84.00" y1="171.50" x2="135.30" y2="171.50" stroke="#000" stroke-width="1.1"/>
<text x="109.50" y="171.55" font-size="9.2" text-anchor="middle" font-weight="bold" >****</text>
<text transform="translate(84.00,179.60) scale(0.98,1.0)" font-size="7.1" text-anchor="middle" font-weight="normal" >2700</text>
<text transform="translate(134.60,179.60) scale(0.98,1.0)" font-size="7.1" text-anchor="middle" font-weight="normal" >873</text>
<line x1="50.30" y1="181.50" x2="50.30" y2="195.60" stroke="#000" stroke-width="1.4"/>
<line x1="50.30" y1="202.30" x2="50.30" y2="260.50" stroke="#000" stroke-width="1.4"/>
<line x1="46.70" y1="181.50" x2="50.30" y2="181.50" stroke="#000" stroke-width="1.4"/>
<text x="44.10" y="184.25" font-size="7.6" text-anchor="end" font-weight="normal" >80000</text>
<line x1="46.70" y1="195.60" x2="53.50" y2="195.60" stroke="#000" stroke-width="1.4"/>
<text x="44.10" y="198.35" font-size="7.6" text-anchor="end" font-weight="normal" >70000</text>
<line x1="46.70" y1="202.30" x2="53.50" y2="202.30" stroke="#000" stroke-width="1.4"/>
<text x="44.10" y="204.65" font-size="7.6" text-anchor="end" font-weight="normal" >15000</text>
<line x1="46.70" y1="220.80" x2="50.30" y2="220.80" stroke="#000" stroke-width="1.4"/>
<text x="44.10" y="223.55" font-size="7.6" text-anchor="end" font-weight="normal" >10000</text>
<line x1="46.70" y1="239.60" x2="50.30" y2="239.60" stroke="#000" stroke-width="1.4"/>
<text x="44.10" y="242.35" font-size="7.6" text-anchor="end" font-weight="normal" >5000</text>
<line x1="46.70" y1="258.10" x2="50.30" y2="258.10" stroke="#000" stroke-width="1.4"/>
<text x="44.10" y="260.85" font-size="7.6" text-anchor="end" font-weight="normal" >0</text>
<line x1="49.60" y1="260.50" x2="168.50" y2="260.50" stroke="#000" stroke-width="1.4"/>
<line x1="84.10" y1="260.50" x2="84.10" y2="263.10" stroke="#000" stroke-width="1.0"/>
<line x1="134.80" y1="260.50" x2="134.80" y2="263.10" stroke="#000" stroke-width="1.0"/>
<line x1="51.00" y1="258.10" x2="168.50" y2="258.10" stroke="#000" stroke-width="1.0" stroke-dasharray="1,1.07"/>
<text transform="translate(17.50,221.60) rotate(-90) scale(1.0,1.5)" font-size="6.0" text-anchor="middle" font-weight="normal" style="stroke-width:0.3px">CD38 (MFI)</text>
<text x="84.10" y="272.00" font-size="7.5" text-anchor="middle" font-weight="normal" word-spacing="0.55">Part A C1D1</text>
<text x="134.80" y="272.00" font-size="7.5" text-anchor="middle" font-weight="normal" word-spacing="0.55">Part A C2D1</text>
<circle cx="84.00" cy="204.90" r="1.72" fill="#cc0000"/>
<circle cx="84.12" cy="230.18" r="1.72" fill="#cc0000"/>
<circle cx="81.65" cy="232.39" r="1.72" fill="#cc0000"/>
<circle cx="84.12" cy="233.72" r="1.72" fill="#cc0000"/>
<circle cx="86.78" cy="235.93" r="1.72" fill="#cc0000"/>
<circle cx="88.99" cy="235.49" r="1.72" fill="#cc0000"/>
<circle cx="84.12" cy="238.58" r="1.72" fill="#cc0000"/>
<circle cx="88.55" cy="238.58" r="1.72" fill="#cc0000"/>
<circle cx="91.65" cy="238.14" r="1.72" fill="#cc0000"/>
<circle cx="94.30" cy="239.47" r="1.72" fill="#cc0000"/>
<circle cx="76.16" cy="238.76" r="1.72" fill="#cc0000"/>
<circle cx="73.50" cy="241.24" r="1.72" fill="#cc0000"/>
<circle cx="86.78" cy="241.24" r="1.72" fill="#cc0000"/>
<circle cx="68.64" cy="245.22" r="1.72" fill="#cc0000"/>
<circle cx="71.73" cy="245.66" r="1.72" fill="#cc0000"/>
<circle cx="74.83" cy="245.66" r="1.72" fill="#cc0000"/>
<circle cx="77.93" cy="245.66" r="1.72" fill="#cc0000"/>
<circle cx="81.03" cy="245.22" r="1.72" fill="#cc0000"/>
<circle cx="84.12" cy="245.22" r="1.72" fill="#cc0000"/>
<circle cx="87.22" cy="245.66" r="1.72" fill="#cc0000"/>
<circle cx="90.32" cy="245.66" r="1.72" fill="#cc0000"/>
<circle cx="93.42" cy="245.66" r="1.72" fill="#cc0000"/>
<circle cx="96.96" cy="245.66" r="1.72" fill="#cc0000"/>
<circle cx="99.61" cy="245.22" r="1.72" fill="#cc0000"/>
<circle cx="73.50" cy="250.09" r="1.72" fill="#cc0000"/>
<circle cx="77.04" cy="250.53" r="1.72" fill="#cc0000"/>
<circle cx="80.58" cy="250.53" r="1.72" fill="#cc0000"/>
<circle cx="84.57" cy="250.53" r="1.72" fill="#cc0000"/>
<circle cx="87.66" cy="250.53" r="1.72" fill="#cc0000"/>
<circle cx="91.20" cy="250.09" r="1.72" fill="#cc0000"/>
<circle cx="94.74" cy="250.53" r="1.72" fill="#cc0000"/>
<circle cx="70.85" cy="253.63" r="1.72" fill="#cc0000"/>
<circle cx="74.39" cy="253.19" r="1.72" fill="#cc0000"/>
<circle cx="77.93" cy="253.63" r="1.72" fill="#cc0000"/>
<circle cx="87.66" cy="253.19" r="1.72" fill="#cc0000"/>
<circle cx="91.20" cy="253.19" r="1.72" fill="#cc0000"/>
<circle cx="93.86" cy="252.74" r="1.72" fill="#cc0000"/>
<circle cx="96.96" cy="253.63" r="1.72" fill="#cc0000"/>
<circle cx="70.85" cy="258.05" r="1.72" fill="#cc0000"/>
<circle cx="74.39" cy="258.05" r="1.72" fill="#cc0000"/>
<circle cx="77.49" cy="258.50" r="1.72" fill="#cc0000"/>
<circle cx="80.58" cy="258.50" r="1.72" fill="#cc0000"/>
<circle cx="83.68" cy="258.50" r="1.72" fill="#cc0000"/>
<circle cx="86.78" cy="258.50" r="1.72" fill="#cc0000"/>
<circle cx="90.32" cy="258.50" r="1.72" fill="#cc0000"/>
<circle cx="93.42" cy="258.50" r="1.72" fill="#cc0000"/>
<circle cx="96.51" cy="258.50" r="1.72" fill="#cc0000"/>
<circle cx="73.06" cy="256.28" r="1.72" fill="#cc0000"/>
<circle cx="84.12" cy="255.40" r="1.72" fill="#cc0000"/>
<circle cx="134.80" cy="194.50" r="1.72" fill="#cc0000"/>
<circle cx="134.57" cy="247.50" r="1.72" fill="#cc0000"/>
<circle cx="131.91" cy="249.72" r="1.72" fill="#cc0000"/>
<circle cx="135.89" cy="250.16" r="1.72" fill="#cc0000"/>
<circle cx="127.93" cy="251.49" r="1.72" fill="#cc0000"/>
<circle cx="137.66" cy="251.49" r="1.72" fill="#cc0000"/>
<circle cx="120.41" cy="253.26" r="1.72" fill="#cc0000"/>
<circle cx="123.50" cy="252.81" r="1.72" fill="#cc0000"/>
<circle cx="126.60" cy="253.26" r="1.72" fill="#cc0000"/>
<circle cx="130.14" cy="252.81" r="1.72" fill="#cc0000"/>
<circle cx="133.68" cy="252.81" r="1.72" fill="#cc0000"/>
<circle cx="137.22" cy="252.81" r="1.72" fill="#cc0000"/>
<circle cx="140.76" cy="252.81" r="1.72" fill="#cc0000"/>
<circle cx="144.30" cy="252.81" r="1.72" fill="#cc0000"/>
<circle cx="147.84" cy="253.26" r="1.72" fill="#cc0000"/>
<circle cx="119.96" cy="255.91" r="1.72" fill="#cc0000"/>
<circle cx="123.50" cy="255.91" r="1.72" fill="#cc0000"/>
<circle cx="127.04" cy="255.91" r="1.72" fill="#cc0000"/>
<circle cx="130.58" cy="255.91" r="1.72" fill="#cc0000"/>
<circle cx="134.12" cy="255.91" r="1.72" fill="#cc0000"/>
<circle cx="137.66" cy="255.91" r="1.72" fill="#cc0000"/>
<circle cx="141.20" cy="255.91" r="1.72" fill="#cc0000"/>
<circle cx="144.74" cy="255.91" r="1.72" fill="#cc0000"/>
<circle cx="148.28" cy="255.91" r="1.72" fill="#cc0000"/>
<circle cx="125.27" cy="258.57" r="1.72" fill="#cc0000"/>
<circle cx="128.81" cy="258.57" r="1.72" fill="#cc0000"/>
<circle cx="132.35" cy="258.57" r="1.72" fill="#cc0000"/>
<circle cx="135.89" cy="258.57" r="1.72" fill="#cc0000"/>
<circle cx="139.43" cy="258.57" r="1.72" fill="#cc0000"/>
<circle cx="142.97" cy="258.57" r="1.72" fill="#cc0000"/>
<circle cx="146.51" cy="258.57" r="1.72" fill="#cc0000"/>
<circle cx="150.05" cy="257.24" r="1.72" fill="#cc0000"/>
<line x1="67.20" y1="248.50" x2="101.00" y2="248.50" stroke="#000" stroke-width="1.3"/>
<line x1="84.50" y1="243.30" x2="84.50" y2="252.40" stroke="#000" stroke-width="1.2"/>
<line x1="75.60" y1="243.50" x2="92.60" y2="243.50" stroke="#000" stroke-width="1.25"/>
<line x1="75.60" y1="252.50" x2="92.60" y2="252.50" stroke="#000" stroke-width="1.25"/>
<line x1="117.90" y1="255.50" x2="151.70" y2="255.50" stroke="#000" stroke-width="1.3"/>
<line x1="134.50" y1="253.50" x2="134.50" y2="256.50" stroke="#000" stroke-width="1.2"/>
<line x1="126.30" y1="253.50" x2="143.30" y2="253.50" stroke="#000" stroke-width="1.25"/>
<line x1="126.30" y1="256.50" x2="143.30" y2="256.50" stroke="#000" stroke-width="1.25"/>
<text x="281.00" y="160.20" font-size="9.0" text-anchor="middle" font-weight="normal" >CD16<tspan font-size="6.2" dy="-3.4">+</tspan><tspan dy="3.4">NK-cells</tspan></text>
<line x1="256.80" y1="171.50" x2="308.00" y2="171.50" stroke="#000" stroke-width="1.1"/>
<text x="282.40" y="171.55" font-size="9.2" text-anchor="middle" font-weight="bold" >****</text>
<text transform="translate(256.80,179.60) scale(0.98,1.0)" font-size="7.1" text-anchor="middle" font-weight="normal" >2956</text>
<text transform="translate(307.00,179.60) scale(0.98,1.0)" font-size="7.1" text-anchor="middle" font-weight="normal" >1026</text>
<line x1="222.00" y1="180.70" x2="222.00" y2="260.70" stroke="#000" stroke-width="1.4"/>
<line x1="218.40" y1="180.70" x2="222.00" y2="180.70" stroke="#000" stroke-width="1.4"/>
<text x="215.80" y="183.45" font-size="7.6" text-anchor="end" font-weight="normal" >15000</text>
<line x1="218.40" y1="207.00" x2="222.00" y2="207.00" stroke="#000" stroke-width="1.4"/>
<text x="215.80" y="209.75" font-size="7.6" text-anchor="end" font-weight="normal" >10000</text>
<line x1="218.40" y1="232.60" x2="222.00" y2="232.60" stroke="#000" stroke-width="1.4"/>
<text x="215.80" y="235.35" font-size="7.6" text-anchor="end" font-weight="normal" >5000</text>
<line x1="218.40" y1="258.60" x2="222.00" y2="258.60" stroke="#000" stroke-width="1.4"/>
<text x="215.80" y="261.35" font-size="7.6" text-anchor="end" font-weight="normal" >0</text>
<line x1="221.30" y1="260.70" x2="340.00" y2="260.70" stroke="#000" stroke-width="1.4"/>
<line x1="256.70" y1="260.70" x2="256.70" y2="263.30" stroke="#000" stroke-width="1.0"/>
<line x1="306.60" y1="260.70" x2="306.60" y2="263.30" stroke="#000" stroke-width="1.0"/>
<line x1="223.00" y1="258.60" x2="340.00" y2="258.60" stroke="#000" stroke-width="1.0" stroke-dasharray="1,1.07"/>
<text transform="translate(190.70,221.00) rotate(-90) scale(1.0,1.5)" font-size="6.0" text-anchor="middle" font-weight="normal" style="stroke-width:0.3px">CD38 (MFI)</text>
<text x="256.70" y="272.00" font-size="7.5" text-anchor="middle" font-weight="normal" word-spacing="0.55">Part A C1D1</text>
<text x="306.60" y="272.00" font-size="7.5" text-anchor="middle" font-weight="normal" word-spacing="0.55">Part A C2D1</text>
<circle cx="256.70" cy="182.30" r="1.72" fill="#cc0000"/>
<circle cx="256.28" cy="210.53" r="1.72" fill="#cc0000"/>
<circle cx="256.28" cy="224.16" r="1.72" fill="#cc0000"/>
<circle cx="260.02" cy="222.38" r="1.72" fill="#cc0000"/>
<circle cx="263.86" cy="224.43" r="1.72" fill="#cc0000"/>
<circle cx="256.28" cy="228.62" r="1.72" fill="#cc0000"/>
<circle cx="260.02" cy="230.67" r="1.72" fill="#cc0000"/>
<circle cx="263.86" cy="227.99" r="1.72" fill="#cc0000"/>
<circle cx="248.53" cy="227.46" r="1.72" fill="#cc0000"/>
<circle cx="248.53" cy="232.18" r="1.72" fill="#cc0000"/>
<circle cx="252.27" cy="232.45" r="1.72" fill="#cc0000"/>
<circle cx="252.27" cy="236.37" r="1.72" fill="#cc0000"/>
<circle cx="263.86" cy="234.86" r="1.72" fill="#cc0000"/>
<circle cx="267.69" cy="234.23" r="1.72" fill="#cc0000"/>
<circle cx="240.68" cy="238.69" r="1.72" fill="#cc0000"/>
<circle cx="244.70" cy="241.36" r="1.72" fill="#cc0000"/>
<circle cx="248.53" cy="239.05" r="1.72" fill="#cc0000"/>
<circle cx="252.27" cy="241.10" r="1.72" fill="#cc0000"/>
<circle cx="256.28" cy="240.20" r="1.72" fill="#cc0000"/>
<circle cx="260.02" cy="238.69" r="1.72" fill="#cc0000"/>
<circle cx="263.86" cy="240.65" r="1.72" fill="#cc0000"/>
<circle cx="267.69" cy="238.16" r="1.72" fill="#cc0000"/>
<circle cx="267.69" cy="241.54" r="1.72" fill="#cc0000"/>
<circle cx="271.43" cy="239.58" r="1.72" fill="#cc0000"/>
<circle cx="248.53" cy="245.55" r="1.72" fill="#cc0000"/>
<circle cx="252.27" cy="244.22" r="1.72" fill="#cc0000"/>
<circle cx="256.28" cy="244.22" r="1.72" fill="#cc0000"/>
<circle cx="260.02" cy="246.18" r="1.72" fill="#cc0000"/>
<circle cx="263.86" cy="246.44" r="1.72" fill="#cc0000"/>
<circle cx="244.70" cy="248.67" r="1.72" fill="#cc0000"/>
<circle cx="248.53" cy="249.56" r="1.72" fill="#cc0000"/>
<circle cx="252.27" cy="249.12" r="1.72" fill="#cc0000"/>
<circle cx="256.28" cy="251.35" r="1.72" fill="#cc0000"/>
<circle cx="260.02" cy="250.01" r="1.72" fill="#cc0000"/>
<circle cx="263.86" cy="251.35" r="1.72" fill="#cc0000"/>
<circle cx="267.69" cy="250.45" r="1.72" fill="#cc0000"/>
<circle cx="248.53" cy="253.57" r="1.72" fill="#cc0000"/>
<circle cx="252.27" cy="252.68" r="1.72" fill="#cc0000"/>
<circle cx="267.69" cy="255.62" r="1.72" fill="#cc0000"/>
<circle cx="240.68" cy="258.74" r="1.72" fill="#cc0000"/>
<circle cx="244.70" cy="258.74" r="1.72" fill="#cc0000"/>
<circle cx="248.53" cy="258.74" r="1.72" fill="#cc0000"/>
<circle cx="252.27" cy="258.74" r="1.72" fill="#cc0000"/>
<circle cx="256.28" cy="258.74" r="1.72" fill="#cc0000"/>
<circle cx="260.02" cy="258.74" r="1.72" fill="#cc0000"/>
<circle cx="263.86" cy="258.74" r="1.72" fill="#cc0000"/>
<circle cx="267.69" cy="258.74" r="1.72" fill="#cc0000"/>
<circle cx="271.43" cy="258.74" r="1.72" fill="#cc0000"/>
<circle cx="306.83" cy="243.26" r="1.72" fill="#cc0000"/>
<circle cx="305.24" cy="246.18" r="1.72" fill="#cc0000"/>
<circle cx="302.14" cy="248.39" r="1.72" fill="#cc0000"/>
<circle cx="306.12" cy="248.39" r="1.72" fill="#cc0000"/>
<circle cx="309.66" cy="247.50" r="1.72" fill="#cc0000"/>
<circle cx="312.32" cy="249.27" r="1.72" fill="#cc0000"/>
<circle cx="297.27" cy="251.49" r="1.72" fill="#cc0000"/>
<circle cx="300.81" cy="250.60" r="1.72" fill="#cc0000"/>
<circle cx="304.35" cy="250.60" r="1.72" fill="#cc0000"/>
<circle cx="307.89" cy="250.16" r="1.72" fill="#cc0000"/>
<circle cx="311.43" cy="250.60" r="1.72" fill="#cc0000"/>
<circle cx="314.97" cy="250.60" r="1.72" fill="#cc0000"/>
<circle cx="322.05" cy="252.37" r="1.72" fill="#cc0000"/>
<circle cx="291.08" cy="254.58" r="1.72" fill="#cc0000"/>
<circle cx="294.62" cy="254.14" r="1.72" fill="#cc0000"/>
<circle cx="298.16" cy="253.70" r="1.72" fill="#cc0000"/>
<circle cx="301.70" cy="253.70" r="1.72" fill="#cc0000"/>
<circle cx="305.24" cy="253.26" r="1.72" fill="#cc0000"/>
<circle cx="308.78" cy="253.70" r="1.72" fill="#cc0000"/>
<circle cx="312.32" cy="253.26" r="1.72" fill="#cc0000"/>
<circle cx="315.86" cy="253.26" r="1.72" fill="#cc0000"/>
<circle cx="319.40" cy="254.58" r="1.72" fill="#cc0000"/>
<circle cx="297.27" cy="259.01" r="1.72" fill="#cc0000"/>
<circle cx="300.81" cy="258.57" r="1.72" fill="#cc0000"/>
<circle cx="304.35" cy="259.01" r="1.72" fill="#cc0000"/>
<circle cx="307.89" cy="258.57" r="1.72" fill="#cc0000"/>
<circle cx="311.43" cy="259.01" r="1.72" fill="#cc0000"/>
<circle cx="314.97" cy="259.01" r="1.72" fill="#cc0000"/>
<circle cx="299.04" cy="256.35" r="1.72" fill="#cc0000"/>
<circle cx="306.12" cy="256.35" r="1.72" fill="#cc0000"/>
<circle cx="313.20" cy="256.35" r="1.72" fill="#cc0000"/>
<line x1="240.20" y1="243.50" x2="273.20" y2="243.50" stroke="#000" stroke-width="1.3"/>
<line x1="256.50" y1="235.20" x2="256.50" y2="251.80" stroke="#000" stroke-width="1.2"/>
<line x1="248.20" y1="235.50" x2="265.20" y2="235.50" stroke="#000" stroke-width="1.25"/>
<line x1="248.20" y1="251.50" x2="265.20" y2="251.50" stroke="#000" stroke-width="1.25"/>
<line x1="290.10" y1="252.50" x2="323.10" y2="252.50" stroke="#000" stroke-width="1.3"/>
<line x1="306.50" y1="250.50" x2="306.50" y2="255.50" stroke="#000" stroke-width="1.2"/>
<line x1="298.10" y1="250.50" x2="315.10" y2="250.50" stroke="#000" stroke-width="1.25"/>
<line x1="298.10" y1="255.50" x2="315.10" y2="255.50" stroke="#000" stroke-width="1.25"/>
<text x="95.90" y="308.00" font-size="9.0" text-anchor="middle" font-weight="normal" >Monocytes</text>
<line x1="68.00" y1="323.50" x2="93.75" y2="323.50" stroke="#000" stroke-width="1.1"/>
<text x="81.25" y="322.40" font-size="7.4" text-anchor="middle" font-weight="bold" letter-spacing="0.75">****</text>
<line x1="68.00" y1="334.50" x2="124.50" y2="334.50" stroke="#000" stroke-width="1.1"/>
<text x="96.85" y="332.90" font-size="7.4" text-anchor="middle" font-weight="bold" letter-spacing="0.75">**</text>
<line x1="68.00" y1="344.50" x2="150.50" y2="344.50" stroke="#000" stroke-width="1.1"/>
<text x="109.50" y="342.30" font-size="9.6" text-anchor="middle" font-weight="normal" >ns</text>
<text transform="translate(68.75,352.60) scale(0.98,1.0)" font-size="7.1" text-anchor="middle" font-weight="normal" >766</text>
<text transform="translate(95.60,352.60) scale(0.98,1.0)" font-size="7.1" text-anchor="middle" font-weight="normal" >1504</text>
<text transform="translate(122.75,352.60) scale(0.98,1.0)" font-size="7.1" text-anchor="middle" font-weight="normal" >1001</text>
<text transform="translate(150.00,352.60) scale(0.98,1.0)" font-size="7.1" text-anchor="middle" font-weight="normal" >703</text>
<line x1="50.50" y1="355.00" x2="50.50" y2="434.00" stroke="#000" stroke-width="1.4"/>
<line x1="46.90" y1="355.00" x2="50.50" y2="355.00" stroke="#000" stroke-width="1.4"/>
<text x="44.30" y="357.75" font-size="7.6" text-anchor="end" font-weight="normal" >4000</text>
<line x1="46.90" y1="372.90" x2="50.50" y2="372.90" stroke="#000" stroke-width="1.4"/>
<text x="44.30" y="375.65" font-size="7.6" text-anchor="end" font-weight="normal" >3000</text>
<line x1="46.90" y1="390.20" x2="50.50" y2="390.20" stroke="#000" stroke-width="1.4"/>
<text x="44.30" y="392.95" font-size="7.6" text-anchor="end" font-weight="normal" >2000</text>
<line x1="46.90" y1="407.90" x2="50.50" y2="407.90" stroke="#000" stroke-width="1.4"/>
<text x="44.30" y="410.65" font-size="7.6" text-anchor="end" font-weight="normal" >1000</text>
<line x1="46.90" y1="425.20" x2="50.50" y2="425.20" stroke="#000" stroke-width="1.4"/>
<text x="44.30" y="427.95" font-size="7.6" text-anchor="end" font-weight="normal" >0</text>
<line x1="49.80" y1="434.00" x2="168.50" y2="434.00" stroke="#000" stroke-width="1.4"/>
<line x1="68.30" y1="434.00" x2="68.30" y2="436.60" stroke="#000" stroke-width="1.0"/>
<line x1="95.50" y1="434.00" x2="95.50" y2="436.60" stroke="#000" stroke-width="1.0"/>
<line x1="122.70" y1="434.00" x2="122.70" y2="436.60" stroke="#000" stroke-width="1.0"/>
<line x1="150.20" y1="434.00" x2="150.20" y2="436.60" stroke="#000" stroke-width="1.0"/>
<line x1="51.00" y1="425.20" x2="168.50" y2="425.20" stroke="#000" stroke-width="1.0" stroke-dasharray="1,1.07"/>
<text transform="translate(18.10,394.70) rotate(-90) scale(1.0,1.5)" font-size="6.0" text-anchor="middle" font-weight="normal" style="stroke-width:0.3px">CD38 (MFI)</text>
<text x="68.30" y="445.80" font-size="7.5" text-anchor="middle" font-weight="normal" >Part B</text>
<text x="68.30" y="455.40" font-size="7.5" text-anchor="middle" font-weight="normal" >C1D1</text>
<text x="95.50" y="445.80" font-size="7.5" text-anchor="middle" font-weight="normal" >Part B</text>
<text x="95.50" y="455.40" font-size="7.5" text-anchor="middle" font-weight="normal" >C1D3</text>
<text x="122.70" y="445.80" font-size="7.5" text-anchor="middle" font-weight="normal" >Part B</text>
<text x="122.70" y="455.40" font-size="7.5" text-anchor="middle" font-weight="normal" >C2D3</text>
<text x="150.20" y="445.80" font-size="7.5" text-anchor="middle" font-weight="normal" >Part B</text>
<text x="150.20" y="455.40" font-size="7.5" text-anchor="middle" font-weight="normal" >EOT</text>
<circle cx="68.36" cy="357.66" r="1.72" fill="#cc0000"/>
<circle cx="68.36" cy="383.59" r="1.72" fill="#cc0000"/>
<circle cx="68.36" cy="395.96" r="1.72" fill="#cc0000"/>
<circle cx="68.36" cy="400.88" r="1.72" fill="#cc0000"/>
<circle cx="66.63" cy="404.20" r="1.72" fill="#cc0000"/>
<circle cx="70.62" cy="404.87" r="1.72" fill="#cc0000"/>
<circle cx="65.30" cy="406.20" r="1.72" fill="#cc0000"/>
<circle cx="69.29" cy="406.86" r="1.72" fill="#cc0000"/>
<circle cx="73.28" cy="407.53" r="1.72" fill="#cc0000"/>
<circle cx="63.31" cy="409.52" r="1.72" fill="#cc0000"/>
<circle cx="67.30" cy="409.52" r="1.72" fill="#cc0000"/>
<circle cx="71.29" cy="409.52" r="1.72" fill="#cc0000"/>
<circle cx="75.28" cy="410.19" r="1.72" fill="#cc0000"/>
<circle cx="60.65" cy="414.18" r="1.72" fill="#cc0000"/>
<circle cx="64.64" cy="413.51" r="1.72" fill="#cc0000"/>
<circle cx="68.63" cy="414.18" r="1.72" fill="#cc0000"/>
<circle cx="72.62" cy="414.18" r="1.72" fill="#cc0000"/>
<circle cx="75.94" cy="415.51" r="1.72" fill="#cc0000"/>
<circle cx="62.64" cy="416.84" r="1.72" fill="#cc0000"/>
<circle cx="66.63" cy="417.50" r="1.72" fill="#cc0000"/>
<circle cx="70.62" cy="417.50" r="1.72" fill="#cc0000"/>
<circle cx="74.61" cy="417.50" r="1.72" fill="#cc0000"/>
<circle cx="65.30" cy="420.16" r="1.72" fill="#cc0000"/>
<circle cx="69.29" cy="420.16" r="1.72" fill="#cc0000"/>
<circle cx="67.96" cy="422.82" r="1.72" fill="#cc0000"/>
<circle cx="68.36" cy="426.14" r="1.72" fill="#cc0000"/>
<circle cx="68.36" cy="431.86" r="1.72" fill="#cc0000"/>
<circle cx="63.97" cy="411.52" r="1.72" fill="#cc0000"/>
<circle cx="73.28" cy="412.18" r="1.72" fill="#cc0000"/>
<circle cx="66.60" cy="405.00" r="1.72" fill="#cc0000"/>
<circle cx="70.40" cy="405.00" r="1.72" fill="#cc0000"/>
<circle cx="63.60" cy="409.00" r="1.72" fill="#cc0000"/>
<circle cx="66.20" cy="409.00" r="1.72" fill="#cc0000"/>
<circle cx="68.80" cy="409.00" r="1.72" fill="#cc0000"/>
<circle cx="71.40" cy="409.00" r="1.72" fill="#cc0000"/>
<circle cx="61.60" cy="413.00" r="1.72" fill="#cc0000"/>
<circle cx="64.36" cy="413.00" r="1.72" fill="#cc0000"/>
<circle cx="67.12" cy="413.00" r="1.72" fill="#cc0000"/>
<circle cx="69.88" cy="413.00" r="1.72" fill="#cc0000"/>
<circle cx="72.64" cy="413.00" r="1.72" fill="#cc0000"/>
<circle cx="75.40" cy="413.00" r="1.72" fill="#cc0000"/>
<circle cx="64.10" cy="416.50" r="1.72" fill="#cc0000"/>
<circle cx="66.87" cy="416.50" r="1.72" fill="#cc0000"/>
<circle cx="69.63" cy="416.50" r="1.72" fill="#cc0000"/>
<circle cx="72.40" cy="416.50" r="1.72" fill="#cc0000"/>
<circle cx="67.60" cy="420.00" r="1.72" fill="#cc0000"/>
<circle cx="69.40" cy="420.00" r="1.72" fill="#cc0000"/>
<circle cx="93.89" cy="383.59" r="1.72" fill="#cc0000"/>
<circle cx="97.88" cy="382.93" r="1.72" fill="#cc0000"/>
<circle cx="95.89" cy="386.25" r="1.72" fill="#cc0000"/>
<circle cx="91.90" cy="387.58" r="1.72" fill="#cc0000"/>
<circle cx="99.21" cy="386.91" r="1.72" fill="#cc0000"/>
<circle cx="93.89" cy="389.31" r="1.72" fill="#cc0000"/>
<circle cx="97.22" cy="390.24" r="1.72" fill="#cc0000"/>
<circle cx="91.23" cy="394.89" r="1.72" fill="#cc0000"/>
<circle cx="95.22" cy="394.23" r="1.72" fill="#cc0000"/>
<circle cx="99.21" cy="394.89" r="1.72" fill="#cc0000"/>
<circle cx="88.57" cy="398.22" r="1.72" fill="#cc0000"/>
<circle cx="92.56" cy="398.22" r="1.72" fill="#cc0000"/>
<circle cx="96.55" cy="397.55" r="1.72" fill="#cc0000"/>
<circle cx="100.54" cy="398.22" r="1.72" fill="#cc0000"/>
<circle cx="103.87" cy="398.22" r="1.72" fill="#cc0000"/>
<circle cx="89.90" cy="401.54" r="1.72" fill="#cc0000"/>
<circle cx="93.89" cy="401.54" r="1.72" fill="#cc0000"/>
<circle cx="97.88" cy="401.54" r="1.72" fill="#cc0000"/>
<circle cx="101.21" cy="400.88" r="1.72" fill="#cc0000"/>
<circle cx="91.23" cy="404.20" r="1.72" fill="#cc0000"/>
<circle cx="95.22" cy="404.87" r="1.72" fill="#cc0000"/>
<circle cx="99.21" cy="404.87" r="1.72" fill="#cc0000"/>
<circle cx="92.56" cy="407.53" r="1.72" fill="#cc0000"/>
<circle cx="96.55" cy="407.53" r="1.72" fill="#cc0000"/>
<circle cx="99.88" cy="406.86" r="1.72" fill="#cc0000"/>
<circle cx="93.89" cy="410.85" r="1.72" fill="#cc0000"/>
<circle cx="97.22" cy="410.85" r="1.72" fill="#cc0000"/>
<circle cx="89.90" cy="403.54" r="1.72" fill="#cc0000"/>
<circle cx="93.60" cy="387.00" r="1.72" fill="#cc0000"/>
<circle cx="97.90" cy="387.00" r="1.72" fill="#cc0000"/>
<circle cx="91.60" cy="395.00" r="1.72" fill="#cc0000"/>
<circle cx="94.53" cy="395.00" r="1.72" fill="#cc0000"/>
<circle cx="97.47" cy="395.00" r="1.72" fill="#cc0000"/>
<circle cx="100.40" cy="395.00" r="1.72" fill="#cc0000"/>
<circle cx="88.60" cy="399.00" r="1.72" fill="#cc0000"/>
<circle cx="91.46" cy="399.00" r="1.72" fill="#cc0000"/>
<circle cx="94.32" cy="399.00" r="1.72" fill="#cc0000"/>
<circle cx="97.18" cy="399.00" r="1.72" fill="#cc0000"/>
<circle cx="100.04" cy="399.00" r="1.72" fill="#cc0000"/>
<circle cx="102.90" cy="399.00" r="1.72" fill="#cc0000"/>
<circle cx="90.10" cy="403.00" r="1.72" fill="#cc0000"/>
<circle cx="92.92" cy="403.00" r="1.72" fill="#cc0000"/>
<circle cx="95.75" cy="403.00" r="1.72" fill="#cc0000"/>
<circle cx="98.58" cy="403.00" r="1.72" fill="#cc0000"/>
<circle cx="101.40" cy="403.00" r="1.72" fill="#cc0000"/>
<circle cx="92.60" cy="407.00" r="1.72" fill="#cc0000"/>
<circle cx="96.25" cy="407.00" r="1.72" fill="#cc0000"/>
<circle cx="99.90" cy="407.00" r="1.72" fill="#cc0000"/>
<circle cx="94.60" cy="411.00" r="1.72" fill="#cc0000"/>
<circle cx="96.90" cy="411.00" r="1.72" fill="#cc0000"/>
<circle cx="122.63" cy="375.21" r="1.72" fill="#cc0000"/>
<circle cx="122.63" cy="380.93" r="1.72" fill="#cc0000"/>
<circle cx="125.29" cy="386.25" r="1.72" fill="#cc0000"/>
<circle cx="120.23" cy="388.91" r="1.72" fill="#cc0000"/>
<circle cx="123.29" cy="390.90" r="1.72" fill="#cc0000"/>
<circle cx="120.63" cy="394.89" r="1.72" fill="#cc0000"/>
<circle cx="125.29" cy="394.23" r="1.72" fill="#cc0000"/>
<circle cx="122.63" cy="398.22" r="1.72" fill="#cc0000"/>
<circle cx="125.29" cy="398.22" r="1.72" fill="#cc0000"/>
<circle cx="127.95" cy="402.87" r="1.72" fill="#cc0000"/>
<circle cx="118.64" cy="404.87" r="1.72" fill="#cc0000"/>
<circle cx="122.63" cy="404.20" r="1.72" fill="#cc0000"/>
<circle cx="125.95" cy="405.53" r="1.72" fill="#cc0000"/>
<circle cx="115.98" cy="406.86" r="1.72" fill="#cc0000"/>
<circle cx="119.97" cy="407.53" r="1.72" fill="#cc0000"/>
<circle cx="123.96" cy="406.86" r="1.72" fill="#cc0000"/>
<circle cx="127.95" cy="407.53" r="1.72" fill="#cc0000"/>
<circle cx="130.61" cy="408.19" r="1.72" fill="#cc0000"/>
<circle cx="115.31" cy="409.52" r="1.72" fill="#cc0000"/>
<circle cx="119.30" cy="410.19" r="1.72" fill="#cc0000"/>
<circle cx="123.29" cy="410.19" r="1.72" fill="#cc0000"/>
<circle cx="127.28" cy="410.19" r="1.72" fill="#cc0000"/>
<circle cx="131.27" cy="410.19" r="1.72" fill="#cc0000"/>
<circle cx="115.31" cy="413.51" r="1.72" fill="#cc0000"/>
<circle cx="119.30" cy="413.51" r="1.72" fill="#cc0000"/>
<circle cx="123.29" cy="413.51" r="1.72" fill="#cc0000"/>
<circle cx="127.28" cy="413.51" r="1.72" fill="#cc0000"/>
<circle cx="130.61" cy="412.85" r="1.72" fill="#cc0000"/>
<circle cx="117.31" cy="416.17" r="1.72" fill="#cc0000"/>
<circle cx="121.30" cy="416.17" r="1.72" fill="#cc0000"/>
<circle cx="125.29" cy="416.17" r="1.72" fill="#cc0000"/>
<circle cx="129.94" cy="416.17" r="1.72" fill="#cc0000"/>
<circle cx="117.97" cy="418.83" r="1.72" fill="#cc0000"/>
<circle cx="123.29" cy="418.16" r="1.72" fill="#cc0000"/>
<circle cx="127.95" cy="419.49" r="1.72" fill="#cc0000"/>
<circle cx="149.89" cy="380.93" r="1.72" fill="#cc0000"/>
<circle cx="149.89" cy="384.92" r="1.72" fill="#cc0000"/>
<circle cx="152.55" cy="399.55" r="1.72" fill="#cc0000"/>
<circle cx="147.89" cy="402.87" r="1.72" fill="#cc0000"/>
<circle cx="150.55" cy="402.21" r="1.72" fill="#cc0000"/>
<circle cx="146.56" cy="404.20" r="1.72" fill="#cc0000"/>
<circle cx="151.22" cy="405.53" r="1.72" fill="#cc0000"/>
<circle cx="148.56" cy="406.86" r="1.72" fill="#cc0000"/>
<circle cx="143.90" cy="409.52" r="1.72" fill="#cc0000"/>
<circle cx="147.89" cy="408.86" r="1.72" fill="#cc0000"/>
<circle cx="151.88" cy="409.52" r="1.72" fill="#cc0000"/>
<circle cx="155.87" cy="410.19" r="1.72" fill="#cc0000"/>
<circle cx="141.91" cy="412.85" r="1.72" fill="#cc0000"/>
<circle cx="145.90" cy="412.18" r="1.72" fill="#cc0000"/>
<circle cx="149.89" cy="413.51" r="1.72" fill="#cc0000"/>
<circle cx="153.88" cy="412.85" r="1.72" fill="#cc0000"/>
<circle cx="157.87" cy="412.18" r="1.72" fill="#cc0000"/>
<circle cx="142.57" cy="415.51" r="1.72" fill="#cc0000"/>
<circle cx="146.56" cy="415.51" r="1.72" fill="#cc0000"/>
<circle cx="150.55" cy="416.17" r="1.72" fill="#cc0000"/>
<circle cx="154.54" cy="415.51" r="1.72" fill="#cc0000"/>
<circle cx="157.87" cy="415.51" r="1.72" fill="#cc0000"/>
<circle cx="143.90" cy="418.16" r="1.72" fill="#cc0000"/>
<circle cx="147.89" cy="418.56" r="1.72" fill="#cc0000"/>
<circle cx="151.88" cy="418.83" r="1.72" fill="#cc0000"/>
<circle cx="146.56" cy="418.83" r="1.72" fill="#cc0000"/>
<circle cx="149.89" cy="420.16" r="1.72" fill="#cc0000"/>
<circle cx="149.89" cy="425.21" r="1.72" fill="#cc0000"/>
<line x1="58.90" y1="410.50" x2="77.70" y2="410.50" stroke="#000" stroke-width="1.3"/>
<line x1="68.50" y1="408.50" x2="68.50" y2="412.50" stroke="#000" stroke-width="1.2"/>
<line x1="64.30" y1="408.50" x2="72.30" y2="408.50" stroke="#000" stroke-width="1.25"/>
<line x1="64.30" y1="412.50" x2="72.30" y2="412.50" stroke="#000" stroke-width="1.25"/>
<line x1="86.10" y1="398.50" x2="104.90" y2="398.50" stroke="#000" stroke-width="1.3"/>
<line x1="95.50" y1="396.40" x2="95.50" y2="400.40" stroke="#000" stroke-width="1.2"/>
<line x1="91.50" y1="396.50" x2="99.50" y2="396.50" stroke="#000" stroke-width="1.25"/>
<line x1="91.50" y1="400.50" x2="99.50" y2="400.50" stroke="#000" stroke-width="1.25"/>
<line x1="113.30" y1="405.50" x2="132.10" y2="405.50" stroke="#000" stroke-width="1.3"/>
<line x1="122.50" y1="403.60" x2="122.50" y2="407.60" stroke="#000" stroke-width="1.2"/>
<line x1="118.70" y1="403.50" x2="126.70" y2="403.50" stroke="#000" stroke-width="1.25"/>
<line x1="118.70" y1="407.50" x2="126.70" y2="407.50" stroke="#000" stroke-width="1.25"/>
<line x1="140.80" y1="410.50" x2="159.60" y2="410.50" stroke="#000" stroke-width="1.3"/>
<line x1="150.50" y1="408.50" x2="150.50" y2="412.50" stroke="#000" stroke-width="1.2"/>
<line x1="146.20" y1="408.50" x2="154.20" y2="408.50" stroke="#000" stroke-width="1.25"/>
<line x1="146.20" y1="412.50" x2="154.20" y2="412.50" stroke="#000" stroke-width="1.25"/>
<text x="269.30" y="308.00" font-size="9.0" text-anchor="middle" font-weight="normal" >B-cells</text>
<line x1="241.70" y1="322.50" x2="262.60" y2="322.50" stroke="#000" stroke-width="1.1"/>
<text x="253.35" y="322.20" font-size="7.4" text-anchor="middle" font-weight="bold" letter-spacing="0.75">**</text>
<line x1="241.70" y1="333.50" x2="296.20" y2="333.50" stroke="#000" stroke-width="1.1"/>
<text x="267.60" y="331.60" font-size="9.6" text-anchor="middle" font-weight="normal" >ns</text>
<line x1="241.70" y1="344.50" x2="321.50" y2="344.50" stroke="#000" stroke-width="1.1"/>
<text x="281.00" y="342.70" font-size="9.6" text-anchor="middle" font-weight="normal" >ns</text>
<text transform="translate(240.50,352.60) scale(0.98,1.0)" font-size="7.1" text-anchor="middle" font-weight="normal" >142</text>
<text transform="translate(267.90,352.60) scale(0.98,1.0)" font-size="7.1" text-anchor="middle" font-weight="normal" >203</text>
<text transform="translate(295.30,352.60) scale(0.98,1.0)" font-size="7.1" text-anchor="middle" font-weight="normal" >182</text>
<text transform="translate(322.70,352.60) scale(0.98,1.0)" font-size="7.1" text-anchor="middle" font-weight="normal" >145</text>
<line x1="222.70" y1="355.20" x2="222.70" y2="369.70" stroke="#000" stroke-width="1.4"/>
<line x1="222.70" y1="376.70" x2="222.70" y2="433.80" stroke="#000" stroke-width="1.4"/>
<line x1="219.10" y1="355.20" x2="222.70" y2="355.20" stroke="#000" stroke-width="1.4"/>
<text x="216.50" y="355.85" font-size="7.6" text-anchor="end" font-weight="normal" >2000</text>
<line x1="219.10" y1="360.20" x2="222.70" y2="360.20" stroke="#000" stroke-width="1.4"/>
<text x="216.50" y="361.45" font-size="7.6" text-anchor="end" font-weight="normal" >1500</text>
<line x1="219.10" y1="364.80" x2="222.70" y2="364.80" stroke="#000" stroke-width="1.4"/>
<text x="216.50" y="367.05" font-size="7.6" text-anchor="end" font-weight="normal" >1000</text>
<line x1="219.10" y1="369.70" x2="225.90" y2="369.70" stroke="#000" stroke-width="1.4"/>
<text x="216.50" y="372.15" font-size="7.6" text-anchor="end" font-weight="normal" >500</text>
<line x1="219.10" y1="376.70" x2="225.90" y2="376.70" stroke="#000" stroke-width="1.4"/>
<text x="216.50" y="379.45" font-size="7.6" text-anchor="end" font-weight="normal" >500</text>
<line x1="219.10" y1="400.70" x2="222.70" y2="400.70" stroke="#000" stroke-width="1.4"/>
<text x="216.50" y="403.45" font-size="7.6" text-anchor="end" font-weight="normal" >250</text>
<line x1="219.10" y1="424.90" x2="222.70" y2="424.90" stroke="#000" stroke-width="1.4"/>
<text x="216.50" y="427.65" font-size="7.6" text-anchor="end" font-weight="normal" >0</text>
<line x1="222.00" y1="433.80" x2="340.50" y2="433.80" stroke="#000" stroke-width="1.4"/>
<line x1="240.50" y1="433.80" x2="240.50" y2="436.40" stroke="#000" stroke-width="1.0"/>
<line x1="267.90" y1="433.80" x2="267.90" y2="436.40" stroke="#000" stroke-width="1.0"/>
<line x1="295.30" y1="433.80" x2="295.30" y2="436.40" stroke="#000" stroke-width="1.0"/>
<line x1="322.70" y1="433.80" x2="322.70" y2="436.40" stroke="#000" stroke-width="1.0"/>
<line x1="223.00" y1="424.90" x2="340.50" y2="424.90" stroke="#000" stroke-width="1.0" stroke-dasharray="1,1.07"/>
<text transform="translate(192.70,395.90) rotate(-90) scale(1.0,1.5)" font-size="6.0" text-anchor="middle" font-weight="normal" style="stroke-width:0.3px">CD38 (MFI)</text>
<text x="240.50" y="445.80" font-size="7.5" text-anchor="middle" font-weight="normal" >Part B</text>
<text x="240.50" y="455.40" font-size="7.5" text-anchor="middle" font-weight="normal" >C1D1</text>
<text x="267.90" y="445.80" font-size="7.5" text-anchor="middle" font-weight="normal" >Part B</text>
<text x="267.90" y="455.40" font-size="7.5" text-anchor="middle" font-weight="normal" >C1D3</text>
<text x="295.30" y="445.80" font-size="7.5" text-anchor="middle" font-weight="normal" >Part B</text>
<text x="295.30" y="455.40" font-size="7.5" text-anchor="middle" font-weight="normal" >C2D3</text>
<text x="322.70" y="445.80" font-size="7.5" text-anchor="middle" font-weight="normal" >Part B</text>
<text x="322.70" y="455.40" font-size="7.5" text-anchor="middle" font-weight="normal" >EOT</text>
<circle cx="240.63" cy="357.93" r="1.72" fill="#cc0000"/>
<circle cx="240.63" cy="365.64" r="1.72" fill="#cc0000"/>
<circle cx="241.69" cy="368.30" r="1.72" fill="#cc0000"/>
<circle cx="239.96" cy="387.98" r="1.72" fill="#cc0000"/>
<circle cx="241.69" cy="388.24" r="1.72" fill="#cc0000"/>
<circle cx="240.63" cy="391.97" r="1.72" fill="#cc0000"/>
<circle cx="240.63" cy="400.88" r="1.72" fill="#cc0000"/>
<circle cx="240.63" cy="405.53" r="1.72" fill="#cc0000"/>
<circle cx="237.97" cy="407.53" r="1.72" fill="#cc0000"/>
<circle cx="242.62" cy="408.19" r="1.72" fill="#cc0000"/>
<circle cx="235.97" cy="410.85" r="1.72" fill="#cc0000"/>
<circle cx="239.96" cy="410.85" r="1.72" fill="#cc0000"/>
<circle cx="244.62" cy="411.52" r="1.72" fill="#cc0000"/>
<circle cx="233.31" cy="414.18" r="1.72" fill="#cc0000"/>
<circle cx="237.30" cy="413.51" r="1.72" fill="#cc0000"/>
<circle cx="241.29" cy="413.51" r="1.72" fill="#cc0000"/>
<circle cx="245.28" cy="413.51" r="1.72" fill="#cc0000"/>
<circle cx="248.61" cy="414.84" r="1.72" fill="#cc0000"/>
<circle cx="234.64" cy="416.17" r="1.72" fill="#cc0000"/>
<circle cx="238.63" cy="416.84" r="1.72" fill="#cc0000"/>
<circle cx="242.62" cy="416.44" r="1.72" fill="#cc0000"/>
<circle cx="246.61" cy="416.17" r="1.72" fill="#cc0000"/>
<circle cx="237.30" cy="418.83" r="1.72" fill="#cc0000"/>
<circle cx="241.29" cy="418.83" r="1.72" fill="#cc0000"/>
<circle cx="244.62" cy="418.83" r="1.72" fill="#cc0000"/>
<circle cx="238.63" cy="421.49" r="1.72" fill="#cc0000"/>
<circle cx="241.96" cy="421.22" r="1.72" fill="#cc0000"/>
<circle cx="240.63" cy="425.48" r="1.72" fill="#cc0000"/>
<circle cx="240.63" cy="402.61" r="1.72" fill="#cc0000"/>
<circle cx="237.60" cy="409.00" r="1.72" fill="#cc0000"/>
<circle cx="241.00" cy="409.00" r="1.72" fill="#cc0000"/>
<circle cx="244.40" cy="409.00" r="1.72" fill="#cc0000"/>
<circle cx="236.10" cy="412.50" r="1.72" fill="#cc0000"/>
<circle cx="239.37" cy="412.50" r="1.72" fill="#cc0000"/>
<circle cx="242.63" cy="412.50" r="1.72" fill="#cc0000"/>
<circle cx="245.90" cy="412.50" r="1.72" fill="#cc0000"/>
<circle cx="233.60" cy="416.00" r="1.72" fill="#cc0000"/>
<circle cx="236.36" cy="416.00" r="1.72" fill="#cc0000"/>
<circle cx="239.12" cy="416.00" r="1.72" fill="#cc0000"/>
<circle cx="241.88" cy="416.00" r="1.72" fill="#cc0000"/>
<circle cx="244.64" cy="416.00" r="1.72" fill="#cc0000"/>
<circle cx="247.40" cy="416.00" r="1.72" fill="#cc0000"/>
<circle cx="237.10" cy="419.00" r="1.72" fill="#cc0000"/>
<circle cx="240.75" cy="419.00" r="1.72" fill="#cc0000"/>
<circle cx="244.40" cy="419.00" r="1.72" fill="#cc0000"/>
<circle cx="239.60" cy="421.50" r="1.72" fill="#cc0000"/>
<circle cx="242.40" cy="421.50" r="1.72" fill="#cc0000"/>
<circle cx="267.89" cy="369.36" r="1.72" fill="#cc0000"/>
<circle cx="268.29" cy="378.94" r="1.72" fill="#cc0000"/>
<circle cx="267.22" cy="382.26" r="1.72" fill="#cc0000"/>
<circle cx="268.82" cy="384.52" r="1.72" fill="#cc0000"/>
<circle cx="268.29" cy="391.17" r="1.72" fill="#cc0000"/>
<circle cx="265.89" cy="396.22" r="1.72" fill="#cc0000"/>
<circle cx="269.88" cy="395.56" r="1.72" fill="#cc0000"/>
<circle cx="264.56" cy="398.88" r="1.72" fill="#cc0000"/>
<circle cx="268.55" cy="398.22" r="1.72" fill="#cc0000"/>
<circle cx="271.88" cy="398.88" r="1.72" fill="#cc0000"/>
<circle cx="261.90" cy="402.21" r="1.72" fill="#cc0000"/>
<circle cx="265.89" cy="401.54" r="1.72" fill="#cc0000"/>
<circle cx="269.88" cy="401.54" r="1.72" fill="#cc0000"/>
<circle cx="273.87" cy="401.54" r="1.72" fill="#cc0000"/>
<circle cx="261.24" cy="404.87" r="1.72" fill="#cc0000"/>
<circle cx="265.23" cy="405.53" r="1.72" fill="#cc0000"/>
<circle cx="269.22" cy="404.87" r="1.72" fill="#cc0000"/>
<circle cx="273.21" cy="404.87" r="1.72" fill="#cc0000"/>
<circle cx="260.57" cy="408.19" r="1.72" fill="#cc0000"/>
<circle cx="264.56" cy="408.19" r="1.72" fill="#cc0000"/>
<circle cx="268.55" cy="408.19" r="1.72" fill="#cc0000"/>
<circle cx="272.54" cy="408.19" r="1.72" fill="#cc0000"/>
<circle cx="275.87" cy="409.52" r="1.72" fill="#cc0000"/>
<circle cx="261.90" cy="410.85" r="1.72" fill="#cc0000"/>
<circle cx="265.89" cy="410.85" r="1.72" fill="#cc0000"/>
<circle cx="269.88" cy="411.52" r="1.72" fill="#cc0000"/>
<circle cx="266.56" cy="414.18" r="1.72" fill="#cc0000"/>
<circle cx="269.88" cy="415.51" r="1.72" fill="#cc0000"/>
<circle cx="265.89" cy="416.84" r="1.72" fill="#cc0000"/>
<circle cx="260.57" cy="407.53" r="1.72" fill="#cc0000"/>
<circle cx="265.60" cy="397.50" r="1.72" fill="#cc0000"/>
<circle cx="268.00" cy="397.50" r="1.72" fill="#cc0000"/>
<circle cx="270.40" cy="397.50" r="1.72" fill="#cc0000"/>
<circle cx="262.10" cy="401.50" r="1.72" fill="#cc0000"/>
<circle cx="265.05" cy="401.50" r="1.72" fill="#cc0000"/>
<circle cx="268.00" cy="401.50" r="1.72" fill="#cc0000"/>
<circle cx="270.95" cy="401.50" r="1.72" fill="#cc0000"/>
<circle cx="273.90" cy="401.50" r="1.72" fill="#cc0000"/>
<circle cx="261.10" cy="405.50" r="1.72" fill="#cc0000"/>
<circle cx="264.43" cy="405.50" r="1.72" fill="#cc0000"/>
<circle cx="267.75" cy="405.50" r="1.72" fill="#cc0000"/>
<circle cx="271.07" cy="405.50" r="1.72" fill="#cc0000"/>
<circle cx="274.40" cy="405.50" r="1.72" fill="#cc0000"/>
<circle cx="262.10" cy="409.50" r="1.72" fill="#cc0000"/>
<circle cx="264.80" cy="409.50" r="1.72" fill="#cc0000"/>
<circle cx="267.50" cy="409.50" r="1.72" fill="#cc0000"/>
<circle cx="270.20" cy="409.50" r="1.72" fill="#cc0000"/>
<circle cx="272.90" cy="409.50" r="1.72" fill="#cc0000"/>
<circle cx="265.60" cy="413.50" r="1.72" fill="#cc0000"/>
<circle cx="269.90" cy="413.50" r="1.72" fill="#cc0000"/>
<circle cx="292.70" cy="367.63" r="1.72" fill="#cc0000"/>
<circle cx="294.96" cy="368.96" r="1.72" fill="#cc0000"/>
<circle cx="297.62" cy="369.63" r="1.72" fill="#cc0000"/>
<circle cx="292.97" cy="396.89" r="1.72" fill="#cc0000"/>
<circle cx="295.63" cy="395.56" r="1.72" fill="#cc0000"/>
<circle cx="298.02" cy="395.56" r="1.72" fill="#cc0000"/>
<circle cx="300.28" cy="399.55" r="1.72" fill="#cc0000"/>
<circle cx="290.31" cy="402.21" r="1.72" fill="#cc0000"/>
<circle cx="294.30" cy="400.21" r="1.72" fill="#cc0000"/>
<circle cx="297.62" cy="400.88" r="1.72" fill="#cc0000"/>
<circle cx="287.65" cy="405.53" r="1.72" fill="#cc0000"/>
<circle cx="291.64" cy="404.87" r="1.72" fill="#cc0000"/>
<circle cx="295.63" cy="404.20" r="1.72" fill="#cc0000"/>
<circle cx="299.62" cy="404.87" r="1.72" fill="#cc0000"/>
<circle cx="302.94" cy="405.53" r="1.72" fill="#cc0000"/>
<circle cx="287.65" cy="408.86" r="1.72" fill="#cc0000"/>
<circle cx="291.64" cy="408.86" r="1.72" fill="#cc0000"/>
<circle cx="295.63" cy="409.52" r="1.72" fill="#cc0000"/>
<circle cx="299.62" cy="408.86" r="1.72" fill="#cc0000"/>
<circle cx="302.94" cy="409.52" r="1.72" fill="#cc0000"/>
<circle cx="286.98" cy="412.18" r="1.72" fill="#cc0000"/>
<circle cx="290.97" cy="412.18" r="1.72" fill="#cc0000"/>
<circle cx="294.96" cy="412.85" r="1.72" fill="#cc0000"/>
<circle cx="298.95" cy="412.18" r="1.72" fill="#cc0000"/>
<circle cx="302.94" cy="413.51" r="1.72" fill="#cc0000"/>
<circle cx="289.64" cy="415.51" r="1.72" fill="#cc0000"/>
<circle cx="293.63" cy="416.17" r="1.72" fill="#cc0000"/>
<circle cx="297.62" cy="415.51" r="1.72" fill="#cc0000"/>
<circle cx="300.95" cy="416.17" r="1.72" fill="#cc0000"/>
<circle cx="290.31" cy="418.16" r="1.72" fill="#cc0000"/>
<circle cx="295.63" cy="417.50" r="1.72" fill="#cc0000"/>
<circle cx="300.28" cy="418.83" r="1.72" fill="#cc0000"/>
<circle cx="322.49" cy="369.36" r="1.72" fill="#cc0000"/>
<circle cx="320.63" cy="382.93" r="1.72" fill="#cc0000"/>
<circle cx="322.49" cy="386.25" r="1.72" fill="#cc0000"/>
<circle cx="320.63" cy="390.24" r="1.72" fill="#cc0000"/>
<circle cx="324.22" cy="393.30" r="1.72" fill="#cc0000"/>
<circle cx="320.89" cy="396.22" r="1.72" fill="#cc0000"/>
<circle cx="324.22" cy="396.89" r="1.72" fill="#cc0000"/>
<circle cx="322.49" cy="400.21" r="1.72" fill="#cc0000"/>
<circle cx="319.56" cy="402.87" r="1.72" fill="#cc0000"/>
<circle cx="323.55" cy="403.54" r="1.72" fill="#cc0000"/>
<circle cx="316.90" cy="406.20" r="1.72" fill="#cc0000"/>
<circle cx="320.89" cy="406.86" r="1.72" fill="#cc0000"/>
<circle cx="324.88" cy="406.20" r="1.72" fill="#cc0000"/>
<circle cx="328.21" cy="407.53" r="1.72" fill="#cc0000"/>
<circle cx="314.91" cy="411.52" r="1.72" fill="#cc0000"/>
<circle cx="318.90" cy="410.85" r="1.72" fill="#cc0000"/>
<circle cx="322.89" cy="410.85" r="1.72" fill="#cc0000"/>
<circle cx="326.88" cy="410.85" r="1.72" fill="#cc0000"/>
<circle cx="330.47" cy="411.91" r="1.72" fill="#cc0000"/>
<circle cx="316.90" cy="414.18" r="1.72" fill="#cc0000"/>
<circle cx="320.89" cy="414.18" r="1.72" fill="#cc0000"/>
<circle cx="324.88" cy="414.18" r="1.72" fill="#cc0000"/>
<circle cx="319.56" cy="416.84" r="1.72" fill="#cc0000"/>
<circle cx="323.55" cy="416.84" r="1.72" fill="#cc0000"/>
<circle cx="326.21" cy="416.17" r="1.72" fill="#cc0000"/>
<circle cx="320.89" cy="420.16" r="1.72" fill="#cc0000"/>
<circle cx="324.22" cy="420.16" r="1.72" fill="#cc0000"/>
<circle cx="320.23" cy="421.49" r="1.72" fill="#cc0000"/>
<line x1="231.25" y1="404.50" x2="249.75" y2="404.50" stroke="#000" stroke-width="1.3"/>
<line x1="240.50" y1="400.40" x2="240.50" y2="407.90" stroke="#000" stroke-width="1.2"/>
<line x1="236.50" y1="400.50" x2="244.50" y2="400.50" stroke="#000" stroke-width="1.25"/>
<line x1="236.50" y1="407.50" x2="244.50" y2="407.50" stroke="#000" stroke-width="1.25"/>
<line x1="258.65" y1="402.50" x2="277.15" y2="402.50" stroke="#000" stroke-width="1.3"/>
<line x1="267.50" y1="400.80" x2="267.50" y2="403.60" stroke="#000" stroke-width="1.2"/>
<line x1="263.60" y1="400.50" x2="272.20" y2="400.50" stroke="#000" stroke-width="1.25"/>
<line x1="263.60" y1="403.50" x2="272.20" y2="403.50" stroke="#000" stroke-width="1.25"/>
<line x1="286.05" y1="404.50" x2="304.55" y2="404.50" stroke="#000" stroke-width="1.3"/>
<line x1="295.50" y1="402.90" x2="295.50" y2="406.10" stroke="#000" stroke-width="1.2"/>
<line x1="291.00" y1="402.50" x2="299.60" y2="402.50" stroke="#000" stroke-width="1.25"/>
<line x1="291.00" y1="406.50" x2="299.60" y2="406.50" stroke="#000" stroke-width="1.25"/>
<line x1="313.45" y1="406.50" x2="331.95" y2="406.50" stroke="#000" stroke-width="1.3"/>
<line x1="322.50" y1="404.90" x2="322.50" y2="407.80" stroke="#000" stroke-width="1.2"/>
<line x1="318.40" y1="404.50" x2="327.00" y2="404.50" stroke="#000" stroke-width="1.25"/>
<line x1="318.40" y1="407.50" x2="327.00" y2="407.50" stroke="#000" stroke-width="1.25"/>
<text x="441.60" y="308.00" font-size="9.0" text-anchor="middle" font-weight="normal" >T-cells</text>
<line x1="413.30" y1="324.50" x2="439.20" y2="324.50" stroke="#000" stroke-width="1.1"/>
<text x="426.65" y="324.30" font-size="7.4" text-anchor="middle" font-weight="bold" letter-spacing="0.75">****</text>
<line x1="413.30" y1="334.50" x2="469.50" y2="334.50" stroke="#000" stroke-width="1.1"/>
<text x="442.00" y="332.30" font-size="9.6" text-anchor="middle" font-weight="normal" >ns</text>
<line x1="413.30" y1="344.50" x2="495.80" y2="344.50" stroke="#000" stroke-width="1.1"/>
<text x="454.40" y="342.70" font-size="9.6" text-anchor="middle" font-weight="normal" >ns</text>
<text transform="translate(412.70,352.60) scale(0.98,1.0)" font-size="7.1" text-anchor="middle" font-weight="normal" >72</text>
<text transform="translate(440.10,352.60) scale(0.98,1.0)" font-size="7.1" text-anchor="middle" font-weight="normal" >140</text>
<text transform="translate(467.20,352.60) scale(0.98,1.0)" font-size="7.1" text-anchor="middle" font-weight="normal" >106</text>
<text transform="translate(494.70,352.60) scale(0.98,1.0)" font-size="7.1" text-anchor="middle" font-weight="normal" >82</text>
<line x1="394.80" y1="355.50" x2="394.80" y2="369.90" stroke="#000" stroke-width="1.4"/>
<line x1="394.80" y1="376.80" x2="394.80" y2="433.80" stroke="#000" stroke-width="1.4"/>
<line x1="391.20" y1="355.50" x2="394.80" y2="355.50" stroke="#000" stroke-width="1.4"/>
<text x="388.60" y="356.95" font-size="7.6" text-anchor="end" font-weight="normal" >800</text>
<line x1="391.20" y1="362.50" x2="394.80" y2="362.50" stroke="#000" stroke-width="1.4"/>
<text x="388.60" y="364.95" font-size="7.6" text-anchor="end" font-weight="normal" >600</text>
<line x1="391.20" y1="369.90" x2="398.00" y2="369.90" stroke="#000" stroke-width="1.4"/>
<text x="388.60" y="373.45" font-size="7.6" text-anchor="end" font-weight="normal" >400</text>
<line x1="391.20" y1="376.80" x2="398.00" y2="376.80" stroke="#000" stroke-width="1.4"/>
<text x="388.60" y="379.25" font-size="7.6" text-anchor="end" font-weight="normal" >400</text>
<line x1="391.20" y1="399.50" x2="394.80" y2="399.50" stroke="#000" stroke-width="1.4"/>
<text x="388.60" y="402.25" font-size="7.6" text-anchor="end" font-weight="normal" >200</text>
<line x1="391.20" y1="422.50" x2="394.80" y2="422.50" stroke="#000" stroke-width="1.4"/>
<text x="388.60" y="425.25" font-size="7.6" text-anchor="end" font-weight="normal" >0</text>
<line x1="394.10" y1="433.80" x2="513.20" y2="433.80" stroke="#000" stroke-width="1.4"/>
<line x1="412.70" y1="433.80" x2="412.70" y2="436.40" stroke="#000" stroke-width="1.0"/>
<line x1="440.10" y1="433.80" x2="440.10" y2="436.40" stroke="#000" stroke-width="1.0"/>
<line x1="467.20" y1="433.80" x2="467.20" y2="436.40" stroke="#000" stroke-width="1.0"/>
<line x1="494.70" y1="433.80" x2="494.70" y2="436.40" stroke="#000" stroke-width="1.0"/>
<line x1="395.00" y1="422.50" x2="513.20" y2="422.50" stroke="#000" stroke-width="1.0" stroke-dasharray="1,1.07"/>
<text transform="translate(365.90,395.70) rotate(-90) scale(1.0,1.5)" font-size="6.0" text-anchor="middle" font-weight="normal" style="stroke-width:0.3px">CD38 (MFI)</text>
<text x="412.70" y="445.80" font-size="7.5" text-anchor="middle" font-weight="normal" >Part B</text>
<text x="412.70" y="455.40" font-size="7.5" text-anchor="middle" font-weight="normal" >C1D1</text>
<text x="440.10" y="445.80" font-size="7.5" text-anchor="middle" font-weight="normal" >Part B</text>
<text x="440.10" y="455.40" font-size="7.5" text-anchor="middle" font-weight="normal" >C1D3</text>
<text x="467.20" y="445.80" font-size="7.5" text-anchor="middle" font-weight="normal" >Part B</text>
<text x="467.20" y="455.40" font-size="7.5" text-anchor="middle" font-weight="normal" >C2D3</text>
<text x="494.70" y="445.80" font-size="7.5" text-anchor="middle" font-weight="normal" >Part B</text>
<text x="494.70" y="455.40" font-size="7.5" text-anchor="middle" font-weight="normal" >EOT</text>
<circle cx="411.63" cy="364.04" r="1.72" fill="#cc0000"/>
<circle cx="414.29" cy="365.37" r="1.72" fill="#cc0000"/>
<circle cx="412.96" cy="386.65" r="1.72" fill="#cc0000"/>
<circle cx="412.96" cy="390.64" r="1.72" fill="#cc0000"/>
<circle cx="412.96" cy="394.63" r="1.72" fill="#cc0000"/>
<circle cx="412.96" cy="397.82" r="1.72" fill="#cc0000"/>
<circle cx="412.96" cy="400.88" r="1.72" fill="#cc0000"/>
<circle cx="412.96" cy="406.20" r="1.72" fill="#cc0000"/>
<circle cx="411.63" cy="407.53" r="1.72" fill="#cc0000"/>
<circle cx="410.97" cy="409.52" r="1.72" fill="#cc0000"/>
<circle cx="414.96" cy="410.19" r="1.72" fill="#cc0000"/>
<circle cx="406.31" cy="413.51" r="1.72" fill="#cc0000"/>
<circle cx="409.64" cy="412.85" r="1.72" fill="#cc0000"/>
<circle cx="412.96" cy="412.85" r="1.72" fill="#cc0000"/>
<circle cx="416.29" cy="413.51" r="1.72" fill="#cc0000"/>
<circle cx="419.61" cy="414.18" r="1.72" fill="#cc0000"/>
<circle cx="405.65" cy="416.17" r="1.72" fill="#cc0000"/>
<circle cx="408.97" cy="416.44" r="1.72" fill="#cc0000"/>
<circle cx="412.30" cy="415.90" r="1.72" fill="#cc0000"/>
<circle cx="416.29" cy="416.44" r="1.72" fill="#cc0000"/>
<circle cx="420.28" cy="416.44" r="1.72" fill="#cc0000"/>
<circle cx="409.64" cy="419.49" r="1.72" fill="#cc0000"/>
<circle cx="413.63" cy="419.49" r="1.72" fill="#cc0000"/>
<circle cx="416.95" cy="418.83" r="1.72" fill="#cc0000"/>
<circle cx="408.97" cy="422.55" r="1.72" fill="#cc0000"/>
<circle cx="412.30" cy="422.82" r="1.72" fill="#cc0000"/>
<circle cx="414.96" cy="422.82" r="1.72" fill="#cc0000"/>
<circle cx="416.29" cy="422.15" r="1.72" fill="#cc0000"/>
<circle cx="412.46" cy="389.84" r="1.72" fill="#cc0000"/>
<circle cx="412.46" cy="399.53" r="1.72" fill="#cc0000"/>
<circle cx="412.46" cy="401.68" r="1.72" fill="#cc0000"/>
<circle cx="411.92" cy="405.45" r="1.72" fill="#cc0000"/>
<circle cx="440.49" cy="361.91" r="1.72" fill="#cc0000"/>
<circle cx="438.89" cy="364.97" r="1.72" fill="#cc0000"/>
<circle cx="441.29" cy="366.70" r="1.72" fill="#cc0000"/>
<circle cx="440.22" cy="378.67" r="1.72" fill="#cc0000"/>
<circle cx="440.22" cy="385.59" r="1.72" fill="#cc0000"/>
<circle cx="437.56" cy="395.56" r="1.72" fill="#cc0000"/>
<circle cx="442.88" cy="394.63" r="1.72" fill="#cc0000"/>
<circle cx="436.23" cy="397.55" r="1.72" fill="#cc0000"/>
<circle cx="439.56" cy="399.55" r="1.72" fill="#cc0000"/>
<circle cx="442.88" cy="399.55" r="1.72" fill="#cc0000"/>
<circle cx="434.90" cy="402.87" r="1.72" fill="#cc0000"/>
<circle cx="438.89" cy="403.54" r="1.72" fill="#cc0000"/>
<circle cx="444.88" cy="402.87" r="1.72" fill="#cc0000"/>
<circle cx="432.24" cy="406.86" r="1.72" fill="#cc0000"/>
<circle cx="436.23" cy="406.20" r="1.72" fill="#cc0000"/>
<circle cx="440.22" cy="406.20" r="1.72" fill="#cc0000"/>
<circle cx="444.21" cy="406.86" r="1.72" fill="#cc0000"/>
<circle cx="448.20" cy="405.53" r="1.72" fill="#cc0000"/>
<circle cx="433.57" cy="410.19" r="1.72" fill="#cc0000"/>
<circle cx="437.56" cy="409.52" r="1.72" fill="#cc0000"/>
<circle cx="441.55" cy="410.19" r="1.72" fill="#cc0000"/>
<circle cx="445.54" cy="409.52" r="1.72" fill="#cc0000"/>
<circle cx="432.24" cy="412.45" r="1.72" fill="#cc0000"/>
<circle cx="436.23" cy="413.51" r="1.72" fill="#cc0000"/>
<circle cx="440.22" cy="413.51" r="1.72" fill="#cc0000"/>
<circle cx="444.21" cy="413.51" r="1.72" fill="#cc0000"/>
<circle cx="448.20" cy="412.85" r="1.72" fill="#cc0000"/>
<circle cx="438.89" cy="416.17" r="1.72" fill="#cc0000"/>
<circle cx="441.55" cy="416.84" r="1.72" fill="#cc0000"/>
<circle cx="440.22" cy="422.55" r="1.72" fill="#cc0000"/>
<circle cx="467.30" cy="356.33" r="1.72" fill="#cc0000"/>
<circle cx="467.30" cy="360.59" r="1.72" fill="#cc0000"/>
<circle cx="467.30" cy="389.84" r="1.72" fill="#cc0000"/>
<circle cx="466.63" cy="394.23" r="1.72" fill="#cc0000"/>
<circle cx="468.63" cy="396.22" r="1.72" fill="#cc0000"/>
<circle cx="466.63" cy="398.22" r="1.72" fill="#cc0000"/>
<circle cx="465.30" cy="401.54" r="1.72" fill="#cc0000"/>
<circle cx="469.29" cy="402.21" r="1.72" fill="#cc0000"/>
<circle cx="461.98" cy="406.20" r="1.72" fill="#cc0000"/>
<circle cx="465.97" cy="406.20" r="1.72" fill="#cc0000"/>
<circle cx="469.96" cy="406.86" r="1.72" fill="#cc0000"/>
<circle cx="473.95" cy="407.53" r="1.72" fill="#cc0000"/>
<circle cx="459.98" cy="408.86" r="1.72" fill="#cc0000"/>
<circle cx="463.97" cy="408.86" r="1.72" fill="#cc0000"/>
<circle cx="467.96" cy="409.52" r="1.72" fill="#cc0000"/>
<circle cx="471.95" cy="408.86" r="1.72" fill="#cc0000"/>
<circle cx="475.28" cy="409.52" r="1.72" fill="#cc0000"/>
<circle cx="459.32" cy="412.18" r="1.72" fill="#cc0000"/>
<circle cx="463.31" cy="412.18" r="1.72" fill="#cc0000"/>
<circle cx="467.30" cy="412.18" r="1.72" fill="#cc0000"/>
<circle cx="471.29" cy="412.18" r="1.72" fill="#cc0000"/>
<circle cx="474.61" cy="411.52" r="1.72" fill="#cc0000"/>
<circle cx="459.98" cy="416.17" r="1.72" fill="#cc0000"/>
<circle cx="463.97" cy="415.51" r="1.72" fill="#cc0000"/>
<circle cx="467.96" cy="415.51" r="1.72" fill="#cc0000"/>
<circle cx="471.95" cy="415.51" r="1.72" fill="#cc0000"/>
<circle cx="463.97" cy="419.10" r="1.72" fill="#cc0000"/>
<circle cx="467.30" cy="418.83" r="1.72" fill="#cc0000"/>
<circle cx="464.64" cy="422.15" r="1.72" fill="#cc0000"/>
<circle cx="469.29" cy="422.15" r="1.72" fill="#cc0000"/>
<circle cx="470.62" cy="421.49" r="1.72" fill="#cc0000"/>
<circle cx="494.82" cy="360.59" r="1.72" fill="#cc0000"/>
<circle cx="494.82" cy="391.57" r="1.72" fill="#cc0000"/>
<circle cx="493.63" cy="396.49" r="1.72" fill="#cc0000"/>
<circle cx="495.89" cy="397.29" r="1.72" fill="#cc0000"/>
<circle cx="494.56" cy="405.53" r="1.72" fill="#cc0000"/>
<circle cx="489.90" cy="408.86" r="1.72" fill="#cc0000"/>
<circle cx="493.89" cy="408.86" r="1.72" fill="#cc0000"/>
<circle cx="498.55" cy="408.86" r="1.72" fill="#cc0000"/>
<circle cx="501.21" cy="409.52" r="1.72" fill="#cc0000"/>
<circle cx="487.24" cy="412.18" r="1.72" fill="#cc0000"/>
<circle cx="491.23" cy="412.18" r="1.72" fill="#cc0000"/>
<circle cx="495.22" cy="412.18" r="1.72" fill="#cc0000"/>
<circle cx="499.21" cy="412.18" r="1.72" fill="#cc0000"/>
<circle cx="502.54" cy="412.18" r="1.72" fill="#cc0000"/>
<circle cx="487.91" cy="415.51" r="1.72" fill="#cc0000"/>
<circle cx="491.90" cy="415.51" r="1.72" fill="#cc0000"/>
<circle cx="495.89" cy="415.51" r="1.72" fill="#cc0000"/>
<circle cx="499.88" cy="415.51" r="1.72" fill="#cc0000"/>
<circle cx="502.54" cy="416.17" r="1.72" fill="#cc0000"/>
<circle cx="490.57" cy="418.16" r="1.72" fill="#cc0000"/>
<circle cx="494.56" cy="418.16" r="1.72" fill="#cc0000"/>
<circle cx="497.88" cy="417.50" r="1.72" fill="#cc0000"/>
<circle cx="492.56" cy="420.82" r="1.72" fill="#cc0000"/>
<circle cx="495.89" cy="421.49" r="1.72" fill="#cc0000"/>
<circle cx="493.23" cy="423.09" r="1.72" fill="#cc0000"/>
<line x1="403.70" y1="414.50" x2="421.70" y2="414.50" stroke="#000" stroke-width="1.3"/>
<line x1="412.50" y1="408.20" x2="412.50" y2="418.00" stroke="#000" stroke-width="1.2"/>
<line x1="408.20" y1="408.50" x2="417.20" y2="408.50" stroke="#000" stroke-width="1.25"/>
<line x1="408.20" y1="418.50" x2="417.20" y2="418.50" stroke="#000" stroke-width="1.25"/>
<line x1="431.10" y1="406.50" x2="449.10" y2="406.50" stroke="#000" stroke-width="1.3"/>
<line x1="440.50" y1="398.60" x2="440.50" y2="411.20" stroke="#000" stroke-width="1.2"/>
<line x1="435.60" y1="398.50" x2="444.60" y2="398.50" stroke="#000" stroke-width="1.25"/>
<line x1="435.60" y1="411.50" x2="444.60" y2="411.50" stroke="#000" stroke-width="1.25"/>
<line x1="458.20" y1="410.50" x2="476.20" y2="410.50" stroke="#000" stroke-width="1.3"/>
<line x1="467.50" y1="401.00" x2="467.50" y2="415.60" stroke="#000" stroke-width="1.2"/>
<line x1="462.70" y1="401.50" x2="471.70" y2="401.50" stroke="#000" stroke-width="1.25"/>
<line x1="462.70" y1="415.50" x2="471.70" y2="415.50" stroke="#000" stroke-width="1.25"/>
<line x1="485.70" y1="413.50" x2="503.70" y2="413.50" stroke="#000" stroke-width="1.3"/>
<line x1="494.50" y1="408.20" x2="494.50" y2="417.10" stroke="#000" stroke-width="1.2"/>
<line x1="490.20" y1="408.50" x2="499.20" y2="408.50" stroke="#000" stroke-width="1.25"/>
<line x1="490.20" y1="417.50" x2="499.20" y2="417.50" stroke="#000" stroke-width="1.25"/>
<text x="95.90" y="485.00" font-size="9.0" text-anchor="middle" font-weight="normal" >NK-cells</text>
<line x1="68.30" y1="501.50" x2="94.20" y2="501.50" stroke="#000" stroke-width="1.1"/>
<text x="81.25" y="499.45" font-size="7.4" text-anchor="middle" font-weight="bold" letter-spacing="0.75">****</text>
<line x1="68.30" y1="511.50" x2="124.50" y2="511.50" stroke="#000" stroke-width="1.1"/>
<text x="96.60" y="509.40" font-size="9.6" text-anchor="middle" font-weight="normal" >ns</text>
<line x1="68.30" y1="522.50" x2="150.50" y2="522.50" stroke="#000" stroke-width="1.1"/>
<text x="109.40" y="519.80" font-size="9.6" text-anchor="middle" font-weight="normal" >ns</text>
<text transform="translate(68.60,529.70) scale(0.98,1.0)" font-size="7.1" text-anchor="middle" font-weight="normal" >697</text>
<text transform="translate(96.00,529.70) scale(0.98,1.0)" font-size="7.1" text-anchor="middle" font-weight="normal" >1017</text>
<text transform="translate(122.80,529.70) scale(0.98,1.0)" font-size="7.1" text-anchor="middle" font-weight="normal" >832</text>
<text transform="translate(149.70,529.70) scale(0.98,1.0)" font-size="7.1" text-anchor="middle" font-weight="normal" >566</text>
<line x1="50.00" y1="532.50" x2="50.00" y2="611.50" stroke="#000" stroke-width="1.4"/>
<line x1="46.40" y1="543.20" x2="50.00" y2="543.20" stroke="#000" stroke-width="1.4"/>
<text x="43.80" y="545.95" font-size="7.6" text-anchor="end" font-weight="normal" >3000</text>
<line x1="46.40" y1="565.30" x2="50.00" y2="565.30" stroke="#000" stroke-width="1.4"/>
<text x="43.80" y="568.05" font-size="7.6" text-anchor="end" font-weight="normal" >2000</text>
<line x1="46.40" y1="587.10" x2="50.00" y2="587.10" stroke="#000" stroke-width="1.4"/>
<text x="43.80" y="589.85" font-size="7.6" text-anchor="end" font-weight="normal" >1000</text>
<line x1="46.40" y1="608.80" x2="50.00" y2="608.80" stroke="#000" stroke-width="1.4"/>
<text x="43.80" y="611.55" font-size="7.6" text-anchor="end" font-weight="normal" >0</text>
<line x1="49.30" y1="611.50" x2="168.00" y2="611.50" stroke="#000" stroke-width="1.4"/>
<line x1="68.60" y1="611.50" x2="68.60" y2="614.10" stroke="#000" stroke-width="1.0"/>
<line x1="96.00" y1="611.50" x2="96.00" y2="614.10" stroke="#000" stroke-width="1.0"/>
<line x1="122.80" y1="611.50" x2="122.80" y2="614.10" stroke="#000" stroke-width="1.0"/>
<line x1="149.70" y1="611.50" x2="149.70" y2="614.10" stroke="#000" stroke-width="1.0"/>
<line x1="51.00" y1="608.80" x2="168.00" y2="608.80" stroke="#000" stroke-width="1.0" stroke-dasharray="1,1.07"/>
<text transform="translate(17.90,571.90) rotate(-90) scale(1.0,1.5)" font-size="6.0" text-anchor="middle" font-weight="normal" style="stroke-width:0.3px">CD38 (MFI)</text>
<text x="68.60" y="623.30" font-size="7.5" text-anchor="middle" font-weight="normal" >Part B</text>
<text x="68.60" y="632.90" font-size="7.5" text-anchor="middle" font-weight="normal" >C1D1</text>
<text x="96.00" y="623.30" font-size="7.5" text-anchor="middle" font-weight="normal" >Part B</text>
<text x="96.00" y="632.90" font-size="7.5" text-anchor="middle" font-weight="normal" >C1D3</text>
<text x="122.80" y="623.30" font-size="7.5" text-anchor="middle" font-weight="normal" >Part B</text>
<text x="122.80" y="632.90" font-size="7.5" text-anchor="middle" font-weight="normal" >C2D3</text>
<text x="149.70" y="623.30" font-size="7.5" text-anchor="middle" font-weight="normal" >Part B</text>
<text x="149.70" y="632.90" font-size="7.5" text-anchor="middle" font-weight="normal" >EOT</text>
<circle cx="69.42" cy="562.11" r="1.72" fill="#cc0000"/>
<circle cx="67.49" cy="564.88" r="1.72" fill="#cc0000"/>
<circle cx="62.43" cy="579.58" r="1.72" fill="#cc0000"/>
<circle cx="70.87" cy="578.37" r="1.72" fill="#cc0000"/>
<circle cx="74.48" cy="579.34" r="1.72" fill="#cc0000"/>
<circle cx="66.65" cy="581.39" r="1.72" fill="#cc0000"/>
<circle cx="70.27" cy="581.39" r="1.72" fill="#cc0000"/>
<circle cx="72.67" cy="584.16" r="1.72" fill="#cc0000"/>
<circle cx="65.45" cy="584.16" r="1.72" fill="#cc0000"/>
<circle cx="68.46" cy="585.00" r="1.72" fill="#cc0000"/>
<circle cx="63.64" cy="587.77" r="1.72" fill="#cc0000"/>
<circle cx="72.07" cy="586.81" r="1.72" fill="#cc0000"/>
<circle cx="61.23" cy="590.66" r="1.72" fill="#cc0000"/>
<circle cx="65.45" cy="590.66" r="1.72" fill="#cc0000"/>
<circle cx="69.66" cy="590.42" r="1.72" fill="#cc0000"/>
<circle cx="73.28" cy="590.42" r="1.72" fill="#cc0000"/>
<circle cx="76.29" cy="591.63" r="1.72" fill="#cc0000"/>
<circle cx="60.63" cy="594.04" r="1.72" fill="#cc0000"/>
<circle cx="64.24" cy="594.64" r="1.72" fill="#cc0000"/>
<circle cx="72.07" cy="593.80" r="1.72" fill="#cc0000"/>
<circle cx="75.69" cy="594.64" r="1.72" fill="#cc0000"/>
<circle cx="62.43" cy="597.65" r="1.72" fill="#cc0000"/>
<circle cx="66.65" cy="597.65" r="1.72" fill="#cc0000"/>
<circle cx="70.27" cy="598.25" r="1.72" fill="#cc0000"/>
<circle cx="73.88" cy="598.25" r="1.72" fill="#cc0000"/>
<circle cx="64.24" cy="600.66" r="1.72" fill="#cc0000"/>
<circle cx="68.46" cy="600.66" r="1.72" fill="#cc0000"/>
<circle cx="72.07" cy="600.66" r="1.72" fill="#cc0000"/>
<circle cx="62.43" cy="604.28" r="1.72" fill="#cc0000"/>
<circle cx="66.05" cy="603.67" r="1.72" fill="#cc0000"/>
<circle cx="70.27" cy="603.67" r="1.72" fill="#cc0000"/>
<circle cx="73.88" cy="603.67" r="1.72" fill="#cc0000"/>
<circle cx="62.43" cy="607.29" r="1.72" fill="#cc0000"/>
<circle cx="66.05" cy="607.05" r="1.72" fill="#cc0000"/>
<circle cx="69.66" cy="607.29" r="1.72" fill="#cc0000"/>
<circle cx="73.28" cy="607.05" r="1.72" fill="#cc0000"/>
<circle cx="63.04" cy="609.10" r="1.72" fill="#cc0000"/>
<circle cx="67.25" cy="609.10" r="1.72" fill="#cc0000"/>
<circle cx="71.47" cy="609.10" r="1.72" fill="#cc0000"/>
<circle cx="75.08" cy="609.10" r="1.72" fill="#cc0000"/>
<circle cx="95.57" cy="543.19" r="1.72" fill="#cc0000"/>
<circle cx="95.57" cy="552.47" r="1.72" fill="#cc0000"/>
<circle cx="95.57" cy="556.93" r="1.72" fill="#cc0000"/>
<circle cx="95.57" cy="562.47" r="1.72" fill="#cc0000"/>
<circle cx="95.57" cy="568.13" r="1.72" fill="#cc0000"/>
<circle cx="92.55" cy="570.54" r="1.72" fill="#cc0000"/>
<circle cx="99.18" cy="569.94" r="1.72" fill="#cc0000"/>
<circle cx="96.17" cy="571.14" r="1.72" fill="#cc0000"/>
<circle cx="93.76" cy="576.57" r="1.72" fill="#cc0000"/>
<circle cx="98.58" cy="577.17" r="1.72" fill="#cc0000"/>
<circle cx="90.14" cy="581.99" r="1.72" fill="#cc0000"/>
<circle cx="95.57" cy="582.59" r="1.72" fill="#cc0000"/>
<circle cx="99.18" cy="582.59" r="1.72" fill="#cc0000"/>
<circle cx="88.94" cy="585.60" r="1.72" fill="#cc0000"/>
<circle cx="92.55" cy="585.00" r="1.72" fill="#cc0000"/>
<circle cx="95.57" cy="586.20" r="1.72" fill="#cc0000"/>
<circle cx="100.39" cy="586.81" r="1.72" fill="#cc0000"/>
<circle cx="90.14" cy="588.61" r="1.72" fill="#cc0000"/>
<circle cx="93.76" cy="589.22" r="1.72" fill="#cc0000"/>
<circle cx="97.37" cy="588.61" r="1.72" fill="#cc0000"/>
<circle cx="90.14" cy="592.59" r="1.72" fill="#cc0000"/>
<circle cx="93.76" cy="592.23" r="1.72" fill="#cc0000"/>
<circle cx="97.37" cy="591.63" r="1.72" fill="#cc0000"/>
<circle cx="100.99" cy="592.59" r="1.72" fill="#cc0000"/>
<circle cx="92.55" cy="595.84" r="1.72" fill="#cc0000"/>
<circle cx="96.17" cy="595.24" r="1.72" fill="#cc0000"/>
<circle cx="99.78" cy="595.24" r="1.72" fill="#cc0000"/>
<circle cx="93.76" cy="600.66" r="1.72" fill="#cc0000"/>
<circle cx="97.37" cy="597.65" r="1.72" fill="#cc0000"/>
<circle cx="96.77" cy="603.67" r="1.72" fill="#cc0000"/>
<circle cx="95.57" cy="606.08" r="1.72" fill="#cc0000"/>
<circle cx="95.57" cy="609.10" r="1.72" fill="#cc0000"/>
<circle cx="122.70" cy="560.30" r="1.72" fill="#cc0000"/>
<circle cx="124.63" cy="563.67" r="1.72" fill="#cc0000"/>
<circle cx="121.25" cy="565.36" r="1.72" fill="#cc0000"/>
<circle cx="122.70" cy="569.94" r="1.72" fill="#cc0000"/>
<circle cx="121.25" cy="574.76" r="1.72" fill="#cc0000"/>
<circle cx="118.24" cy="576.93" r="1.72" fill="#cc0000"/>
<circle cx="124.27" cy="577.41" r="1.72" fill="#cc0000"/>
<circle cx="127.28" cy="576.93" r="1.72" fill="#cc0000"/>
<circle cx="120.05" cy="584.40" r="1.72" fill="#cc0000"/>
<circle cx="124.87" cy="582.59" r="1.72" fill="#cc0000"/>
<circle cx="118.24" cy="585.00" r="1.72" fill="#cc0000"/>
<circle cx="115.23" cy="588.61" r="1.72" fill="#cc0000"/>
<circle cx="120.05" cy="588.01" r="1.72" fill="#cc0000"/>
<circle cx="126.67" cy="587.05" r="1.72" fill="#cc0000"/>
<circle cx="130.29" cy="587.41" r="1.72" fill="#cc0000"/>
<circle cx="116.43" cy="591.02" r="1.72" fill="#cc0000"/>
<circle cx="123.66" cy="591.02" r="1.72" fill="#cc0000"/>
<circle cx="129.08" cy="590.66" r="1.72" fill="#cc0000"/>
<circle cx="115.23" cy="593.80" r="1.72" fill="#cc0000"/>
<circle cx="119.45" cy="594.28" r="1.72" fill="#cc0000"/>
<circle cx="126.07" cy="594.04" r="1.72" fill="#cc0000"/>
<circle cx="129.69" cy="593.80" r="1.72" fill="#cc0000"/>
<circle cx="118.24" cy="598.25" r="1.72" fill="#cc0000"/>
<circle cx="122.46" cy="597.65" r="1.72" fill="#cc0000"/>
<circle cx="127.28" cy="597.05" r="1.72" fill="#cc0000"/>
<circle cx="117.64" cy="601.27" r="1.72" fill="#cc0000"/>
<circle cx="121.25" cy="602.47" r="1.72" fill="#cc0000"/>
<circle cx="124.87" cy="603.67" r="1.72" fill="#cc0000"/>
<circle cx="129.69" cy="601.02" r="1.72" fill="#cc0000"/>
<circle cx="119.45" cy="608.25" r="1.72" fill="#cc0000"/>
<circle cx="122.46" cy="608.25" r="1.72" fill="#cc0000"/>
<circle cx="126.07" cy="608.25" r="1.72" fill="#cc0000"/>
<circle cx="150.17" cy="543.67" r="1.72" fill="#cc0000"/>
<circle cx="150.17" cy="554.04" r="1.72" fill="#cc0000"/>
<circle cx="150.17" cy="560.54" r="1.72" fill="#cc0000"/>
<circle cx="150.17" cy="566.93" r="1.72" fill="#cc0000"/>
<circle cx="152.58" cy="582.59" r="1.72" fill="#cc0000"/>
<circle cx="150.17" cy="584.40" r="1.72" fill="#cc0000"/>
<circle cx="147.76" cy="588.01" r="1.72" fill="#cc0000"/>
<circle cx="145.35" cy="590.42" r="1.72" fill="#cc0000"/>
<circle cx="150.17" cy="589.82" r="1.72" fill="#cc0000"/>
<circle cx="154.99" cy="590.66" r="1.72" fill="#cc0000"/>
<circle cx="146.55" cy="592.83" r="1.72" fill="#cc0000"/>
<circle cx="152.58" cy="593.80" r="1.72" fill="#cc0000"/>
<circle cx="157.40" cy="594.64" r="1.72" fill="#cc0000"/>
<circle cx="142.94" cy="596.20" r="1.72" fill="#cc0000"/>
<circle cx="147.76" cy="595.84" r="1.72" fill="#cc0000"/>
<circle cx="151.98" cy="596.45" r="1.72" fill="#cc0000"/>
<circle cx="144.14" cy="598.86" r="1.72" fill="#cc0000"/>
<circle cx="148.96" cy="598.86" r="1.72" fill="#cc0000"/>
<circle cx="153.78" cy="598.86" r="1.72" fill="#cc0000"/>
<circle cx="158.00" cy="598.61" r="1.72" fill="#cc0000"/>
<circle cx="142.94" cy="600.66" r="1.72" fill="#cc0000"/>
<circle cx="146.55" cy="601.27" r="1.72" fill="#cc0000"/>
<circle cx="151.37" cy="601.27" r="1.72" fill="#cc0000"/>
<circle cx="157.40" cy="601.87" r="1.72" fill="#cc0000"/>
<circle cx="147.76" cy="603.67" r="1.72" fill="#cc0000"/>
<circle cx="152.58" cy="604.28" r="1.72" fill="#cc0000"/>
<circle cx="148.96" cy="608.49" r="1.72" fill="#cc0000"/>
<circle cx="151.98" cy="608.49" r="1.72" fill="#cc0000"/>
<line x1="59.10" y1="593.50" x2="78.10" y2="593.50" stroke="#000" stroke-width="1.3"/>
<line x1="68.50" y1="586.20" x2="68.50" y2="603.50" stroke="#000" stroke-width="1.2"/>
<line x1="64.10" y1="586.50" x2="73.10" y2="586.50" stroke="#000" stroke-width="1.25"/>
<line x1="64.10" y1="603.50" x2="73.10" y2="603.50" stroke="#000" stroke-width="1.25"/>
<line x1="86.50" y1="586.50" x2="105.50" y2="586.50" stroke="#000" stroke-width="1.3"/>
<line x1="96.50" y1="574.50" x2="96.50" y2="592.40" stroke="#000" stroke-width="1.2"/>
<line x1="91.50" y1="574.50" x2="100.50" y2="574.50" stroke="#000" stroke-width="1.25"/>
<line x1="91.50" y1="592.50" x2="100.50" y2="592.50" stroke="#000" stroke-width="1.25"/>
<line x1="113.30" y1="591.50" x2="132.30" y2="591.50" stroke="#000" stroke-width="1.3"/>
<line x1="122.50" y1="580.30" x2="122.50" y2="598.10" stroke="#000" stroke-width="1.2"/>
<line x1="118.30" y1="580.50" x2="127.30" y2="580.50" stroke="#000" stroke-width="1.25"/>
<line x1="118.30" y1="598.50" x2="127.30" y2="598.50" stroke="#000" stroke-width="1.25"/>
<line x1="140.20" y1="596.50" x2="159.20" y2="596.50" stroke="#000" stroke-width="1.3"/>
<line x1="149.50" y1="589.40" x2="149.50" y2="602.00" stroke="#000" stroke-width="1.2"/>
<line x1="145.20" y1="589.50" x2="154.20" y2="589.50" stroke="#000" stroke-width="1.25"/>
<line x1="145.20" y1="602.50" x2="154.20" y2="602.50" stroke="#000" stroke-width="1.25"/>
<text x="267.60" y="485.00" font-size="9.0" text-anchor="middle" font-weight="normal" >CD16<tspan font-size="6.2" dy="-3.4">+</tspan><tspan dy="3.4">NK-cells</tspan></text>
<line x1="240.00" y1="501.50" x2="265.90" y2="501.50" stroke="#000" stroke-width="1.1"/>
<text x="253.25" y="499.45" font-size="7.4" text-anchor="middle" font-weight="bold" letter-spacing="0.75">****</text>
<line x1="240.00" y1="511.50" x2="296.90" y2="511.50" stroke="#000" stroke-width="1.1"/>
<text x="268.30" y="509.40" font-size="9.6" text-anchor="middle" font-weight="normal" >ns</text>
<line x1="240.00" y1="522.50" x2="323.10" y2="522.50" stroke="#000" stroke-width="1.1"/>
<text x="281.00" y="519.80" font-size="9.6" text-anchor="middle" font-weight="normal" >ns</text>
<text transform="translate(240.70,529.70) scale(0.98,1.0)" font-size="7.1" text-anchor="middle" font-weight="normal" >753</text>
<text transform="translate(268.10,529.70) scale(0.98,1.0)" font-size="7.1" text-anchor="middle" font-weight="normal" >1296</text>
<text transform="translate(295.20,529.70) scale(0.98,1.0)" font-size="7.1" text-anchor="middle" font-weight="normal" >878</text>
<text transform="translate(322.00,529.70) scale(0.98,1.0)" font-size="7.1" text-anchor="middle" font-weight="normal" >563</text>
<line x1="222.00" y1="532.50" x2="222.00" y2="611.50" stroke="#000" stroke-width="1.4"/>
<line x1="218.40" y1="532.50" x2="222.00" y2="532.50" stroke="#000" stroke-width="1.4"/>
<text x="215.80" y="535.25" font-size="7.6" text-anchor="end" font-weight="normal" >4000</text>
<line x1="218.40" y1="570.70" x2="222.00" y2="570.70" stroke="#000" stroke-width="1.4"/>
<text x="215.80" y="573.45" font-size="7.6" text-anchor="end" font-weight="normal" >2000</text>
<line x1="218.40" y1="608.80" x2="222.00" y2="608.80" stroke="#000" stroke-width="1.4"/>
<text x="215.80" y="611.55" font-size="7.6" text-anchor="end" font-weight="normal" >0</text>
<line x1="221.30" y1="611.50" x2="340.50" y2="611.50" stroke="#000" stroke-width="1.4"/>
<line x1="240.70" y1="611.50" x2="240.70" y2="614.10" stroke="#000" stroke-width="1.0"/>
<line x1="268.10" y1="611.50" x2="268.10" y2="614.10" stroke="#000" stroke-width="1.0"/>
<line x1="295.20" y1="611.50" x2="295.20" y2="614.10" stroke="#000" stroke-width="1.0"/>
<line x1="322.00" y1="611.50" x2="322.00" y2="614.10" stroke="#000" stroke-width="1.0"/>
<line x1="223.00" y1="608.80" x2="340.50" y2="608.80" stroke="#000" stroke-width="1.0" stroke-dasharray="1,1.07"/>
<text transform="translate(190.50,571.90) rotate(-90) scale(1.0,1.5)" font-size="6.0" text-anchor="middle" font-weight="normal" style="stroke-width:0.3px">CD38 (MFI)</text>
<text x="240.70" y="623.30" font-size="7.5" text-anchor="middle" font-weight="normal" >Part B</text>
<text x="240.70" y="632.90" font-size="7.5" text-anchor="middle" font-weight="normal" >C1D1</text>
<text x="268.10" y="623.30" font-size="7.5" text-anchor="middle" font-weight="normal" >Part B</text>
<text x="268.10" y="632.90" font-size="7.5" text-anchor="middle" font-weight="normal" >C1D3</text>
<text x="295.20" y="623.30" font-size="7.5" text-anchor="middle" font-weight="normal" >Part B</text>
<text x="295.20" y="632.90" font-size="7.5" text-anchor="middle" font-weight="normal" >C2D3</text>
<text x="322.00" y="623.30" font-size="7.5" text-anchor="middle" font-weight="normal" >Part B</text>
<text x="322.00" y="632.90" font-size="7.5" text-anchor="middle" font-weight="normal" >EOT</text>
<circle cx="240.76" cy="559.78" r="1.72" fill="#cc0000"/>
<circle cx="240.76" cy="567.48" r="1.72" fill="#cc0000"/>
<circle cx="237.55" cy="579.42" r="1.72" fill="#cc0000"/>
<circle cx="242.05" cy="579.42" r="1.72" fill="#cc0000"/>
<circle cx="245.26" cy="579.81" r="1.72" fill="#cc0000"/>
<circle cx="235.63" cy="582.63" r="1.72" fill="#cc0000"/>
<circle cx="239.48" cy="582.89" r="1.72" fill="#cc0000"/>
<circle cx="243.97" cy="582.63" r="1.72" fill="#cc0000"/>
<circle cx="246.54" cy="582.37" r="1.72" fill="#cc0000"/>
<circle cx="236.91" cy="586.48" r="1.72" fill="#cc0000"/>
<circle cx="242.69" cy="586.48" r="1.72" fill="#cc0000"/>
<circle cx="238.20" cy="590.08" r="1.72" fill="#cc0000"/>
<circle cx="245.26" cy="589.69" r="1.72" fill="#cc0000"/>
<circle cx="233.70" cy="592.90" r="1.72" fill="#cc0000"/>
<circle cx="237.55" cy="592.90" r="1.72" fill="#cc0000"/>
<circle cx="243.97" cy="592.90" r="1.72" fill="#cc0000"/>
<circle cx="247.82" cy="593.16" r="1.72" fill="#cc0000"/>
<circle cx="234.99" cy="596.75" r="1.72" fill="#cc0000"/>
<circle cx="240.12" cy="596.75" r="1.72" fill="#cc0000"/>
<circle cx="245.26" cy="597.39" r="1.72" fill="#cc0000"/>
<circle cx="233.70" cy="599.96" r="1.72" fill="#cc0000"/>
<circle cx="238.20" cy="600.35" r="1.72" fill="#cc0000"/>
<circle cx="243.33" cy="600.35" r="1.72" fill="#cc0000"/>
<circle cx="247.18" cy="599.96" r="1.72" fill="#cc0000"/>
<circle cx="233.06" cy="603.43" r="1.72" fill="#cc0000"/>
<circle cx="237.55" cy="603.17" r="1.72" fill="#cc0000"/>
<circle cx="242.69" cy="603.81" r="1.72" fill="#cc0000"/>
<circle cx="248.46" cy="602.91" r="1.72" fill="#cc0000"/>
<circle cx="233.70" cy="609.33" r="1.72" fill="#cc0000"/>
<circle cx="237.55" cy="609.33" r="1.72" fill="#cc0000"/>
<circle cx="241.40" cy="609.33" r="1.72" fill="#cc0000"/>
<circle cx="245.26" cy="609.33" r="1.72" fill="#cc0000"/>
<circle cx="248.46" cy="609.33" r="1.72" fill="#cc0000"/>
<circle cx="267.72" cy="533.21" r="1.72" fill="#cc0000"/>
<circle cx="267.72" cy="549.90" r="1.72" fill="#cc0000"/>
<circle cx="267.72" cy="560.17" r="1.72" fill="#cc0000"/>
<circle cx="270.67" cy="564.66" r="1.72" fill="#cc0000"/>
<circle cx="265.15" cy="566.97" r="1.72" fill="#cc0000"/>
<circle cx="270.29" cy="568.25" r="1.72" fill="#cc0000"/>
<circle cx="263.23" cy="574.29" r="1.72" fill="#cc0000"/>
<circle cx="267.08" cy="574.29" r="1.72" fill="#cc0000"/>
<circle cx="261.94" cy="581.35" r="1.72" fill="#cc0000"/>
<circle cx="265.15" cy="579.42" r="1.72" fill="#cc0000"/>
<circle cx="269.65" cy="579.42" r="1.72" fill="#cc0000"/>
<circle cx="275.42" cy="578.78" r="1.72" fill="#cc0000"/>
<circle cx="260.02" cy="583.27" r="1.72" fill="#cc0000"/>
<circle cx="264.51" cy="583.92" r="1.72" fill="#cc0000"/>
<circle cx="269.65" cy="583.92" r="1.72" fill="#cc0000"/>
<circle cx="274.14" cy="582.63" r="1.72" fill="#cc0000"/>
<circle cx="260.66" cy="587.77" r="1.72" fill="#cc0000"/>
<circle cx="264.51" cy="587.12" r="1.72" fill="#cc0000"/>
<circle cx="269.65" cy="587.77" r="1.72" fill="#cc0000"/>
<circle cx="274.14" cy="587.77" r="1.72" fill="#cc0000"/>
<circle cx="276.06" cy="586.48" r="1.72" fill="#cc0000"/>
<circle cx="261.94" cy="590.98" r="1.72" fill="#cc0000"/>
<circle cx="265.79" cy="591.36" r="1.72" fill="#cc0000"/>
<circle cx="270.29" cy="590.33" r="1.72" fill="#cc0000"/>
<circle cx="263.23" cy="596.11" r="1.72" fill="#cc0000"/>
<circle cx="268.36" cy="596.11" r="1.72" fill="#cc0000"/>
<circle cx="264.51" cy="599.32" r="1.72" fill="#cc0000"/>
<circle cx="269.00" cy="599.96" r="1.72" fill="#cc0000"/>
<circle cx="265.79" cy="601.25" r="1.72" fill="#cc0000"/>
<circle cx="267.72" cy="609.33" r="1.72" fill="#cc0000"/>
<circle cx="266.05" cy="609.33" r="1.72" fill="#cc0000"/>
<circle cx="269.65" cy="609.33" r="1.72" fill="#cc0000"/>
<circle cx="287.68" cy="565.30" r="1.72" fill="#cc0000"/>
<circle cx="295.12" cy="567.23" r="1.72" fill="#cc0000"/>
<circle cx="298.97" cy="566.59" r="1.72" fill="#cc0000"/>
<circle cx="302.82" cy="564.92" r="1.72" fill="#cc0000"/>
<circle cx="291.27" cy="578.52" r="1.72" fill="#cc0000"/>
<circle cx="295.12" cy="579.42" r="1.72" fill="#cc0000"/>
<circle cx="298.97" cy="581.35" r="1.72" fill="#cc0000"/>
<circle cx="287.42" cy="583.92" r="1.72" fill="#cc0000"/>
<circle cx="291.27" cy="586.48" r="1.72" fill="#cc0000"/>
<circle cx="295.12" cy="586.48" r="1.72" fill="#cc0000"/>
<circle cx="298.97" cy="586.48" r="1.72" fill="#cc0000"/>
<circle cx="287.42" cy="588.02" r="1.72" fill="#cc0000"/>
<circle cx="291.27" cy="589.69" r="1.72" fill="#cc0000"/>
<circle cx="302.82" cy="588.79" r="1.72" fill="#cc0000"/>
<circle cx="295.12" cy="590.33" r="1.72" fill="#cc0000"/>
<circle cx="298.97" cy="590.98" r="1.72" fill="#cc0000"/>
<circle cx="287.42" cy="592.90" r="1.72" fill="#cc0000"/>
<circle cx="291.27" cy="593.54" r="1.72" fill="#cc0000"/>
<circle cx="302.82" cy="592.90" r="1.72" fill="#cc0000"/>
<circle cx="298.97" cy="596.11" r="1.72" fill="#cc0000"/>
<circle cx="291.27" cy="599.32" r="1.72" fill="#cc0000"/>
<circle cx="287.42" cy="599.32" r="1.72" fill="#cc0000"/>
<circle cx="302.82" cy="599.96" r="1.72" fill="#cc0000"/>
<circle cx="291.27" cy="602.53" r="1.72" fill="#cc0000"/>
<circle cx="287.42" cy="602.91" r="1.72" fill="#cc0000"/>
<circle cx="298.97" cy="603.17" r="1.72" fill="#cc0000"/>
<circle cx="302.82" cy="603.43" r="1.72" fill="#cc0000"/>
<circle cx="289.34" cy="609.59" r="1.72" fill="#cc0000"/>
<circle cx="293.20" cy="609.33" r="1.72" fill="#cc0000"/>
<circle cx="297.05" cy="609.33" r="1.72" fill="#cc0000"/>
<circle cx="300.90" cy="609.59" r="1.72" fill="#cc0000"/>
<circle cx="322.34" cy="541.30" r="1.72" fill="#cc0000"/>
<circle cx="322.34" cy="555.42" r="1.72" fill="#cc0000"/>
<circle cx="322.34" cy="564.66" r="1.72" fill="#cc0000"/>
<circle cx="322.34" cy="571.34" r="1.72" fill="#cc0000"/>
<circle cx="322.08" cy="585.20" r="1.72" fill="#cc0000"/>
<circle cx="319.51" cy="588.41" r="1.72" fill="#cc0000"/>
<circle cx="324.00" cy="589.69" r="1.72" fill="#cc0000"/>
<circle cx="322.08" cy="591.62" r="1.72" fill="#cc0000"/>
<circle cx="325.29" cy="592.90" r="1.72" fill="#cc0000"/>
<circle cx="319.51" cy="594.83" r="1.72" fill="#cc0000"/>
<circle cx="323.36" cy="595.47" r="1.72" fill="#cc0000"/>
<circle cx="326.57" cy="594.18" r="1.72" fill="#cc0000"/>
<circle cx="316.94" cy="598.68" r="1.72" fill="#cc0000"/>
<circle cx="320.79" cy="598.04" r="1.72" fill="#cc0000"/>
<circle cx="325.93" cy="598.04" r="1.72" fill="#cc0000"/>
<circle cx="329.78" cy="596.75" r="1.72" fill="#cc0000"/>
<circle cx="315.02" cy="602.53" r="1.72" fill="#cc0000"/>
<circle cx="318.87" cy="603.17" r="1.72" fill="#cc0000"/>
<circle cx="322.72" cy="603.17" r="1.72" fill="#cc0000"/>
<circle cx="327.21" cy="601.89" r="1.72" fill="#cc0000"/>
<circle cx="330.42" cy="599.96" r="1.72" fill="#cc0000"/>
<circle cx="322.08" cy="605.10" r="1.72" fill="#cc0000"/>
<circle cx="319.51" cy="609.33" r="1.72" fill="#cc0000"/>
<circle cx="322.72" cy="609.33" r="1.72" fill="#cc0000"/>
<circle cx="324.65" cy="609.33" r="1.72" fill="#cc0000"/>
<line x1="231.70" y1="594.50" x2="249.70" y2="594.50" stroke="#000" stroke-width="1.3"/>
<line x1="240.50" y1="585.60" x2="240.50" y2="603.50" stroke="#000" stroke-width="1.2"/>
<line x1="236.20" y1="585.50" x2="245.20" y2="585.50" stroke="#000" stroke-width="1.25"/>
<line x1="236.20" y1="603.50" x2="245.20" y2="603.50" stroke="#000" stroke-width="1.25"/>
<line x1="259.10" y1="584.50" x2="277.10" y2="584.50" stroke="#000" stroke-width="1.3"/>
<line x1="268.50" y1="576.60" x2="268.50" y2="593.00" stroke="#000" stroke-width="1.2"/>
<line x1="263.60" y1="576.50" x2="272.60" y2="576.50" stroke="#000" stroke-width="1.25"/>
<line x1="263.60" y1="593.50" x2="272.60" y2="593.50" stroke="#000" stroke-width="1.25"/>
<line x1="286.20" y1="592.50" x2="304.20" y2="592.50" stroke="#000" stroke-width="1.3"/>
<line x1="295.50" y1="585.00" x2="295.50" y2="602.00" stroke="#000" stroke-width="1.2"/>
<line x1="290.70" y1="585.50" x2="299.70" y2="585.50" stroke="#000" stroke-width="1.25"/>
<line x1="290.70" y1="602.50" x2="299.70" y2="602.50" stroke="#000" stroke-width="1.25"/>
<line x1="313.00" y1="598.50" x2="331.00" y2="598.50" stroke="#000" stroke-width="1.3"/>
<line x1="322.50" y1="588.90" x2="322.50" y2="601.00" stroke="#000" stroke-width="1.2"/>
<line x1="317.50" y1="588.50" x2="326.50" y2="588.50" stroke="#000" stroke-width="1.25"/>
<line x1="317.50" y1="601.50" x2="326.50" y2="601.50" stroke="#000" stroke-width="1.25"/>
</svg>
</body></html>
